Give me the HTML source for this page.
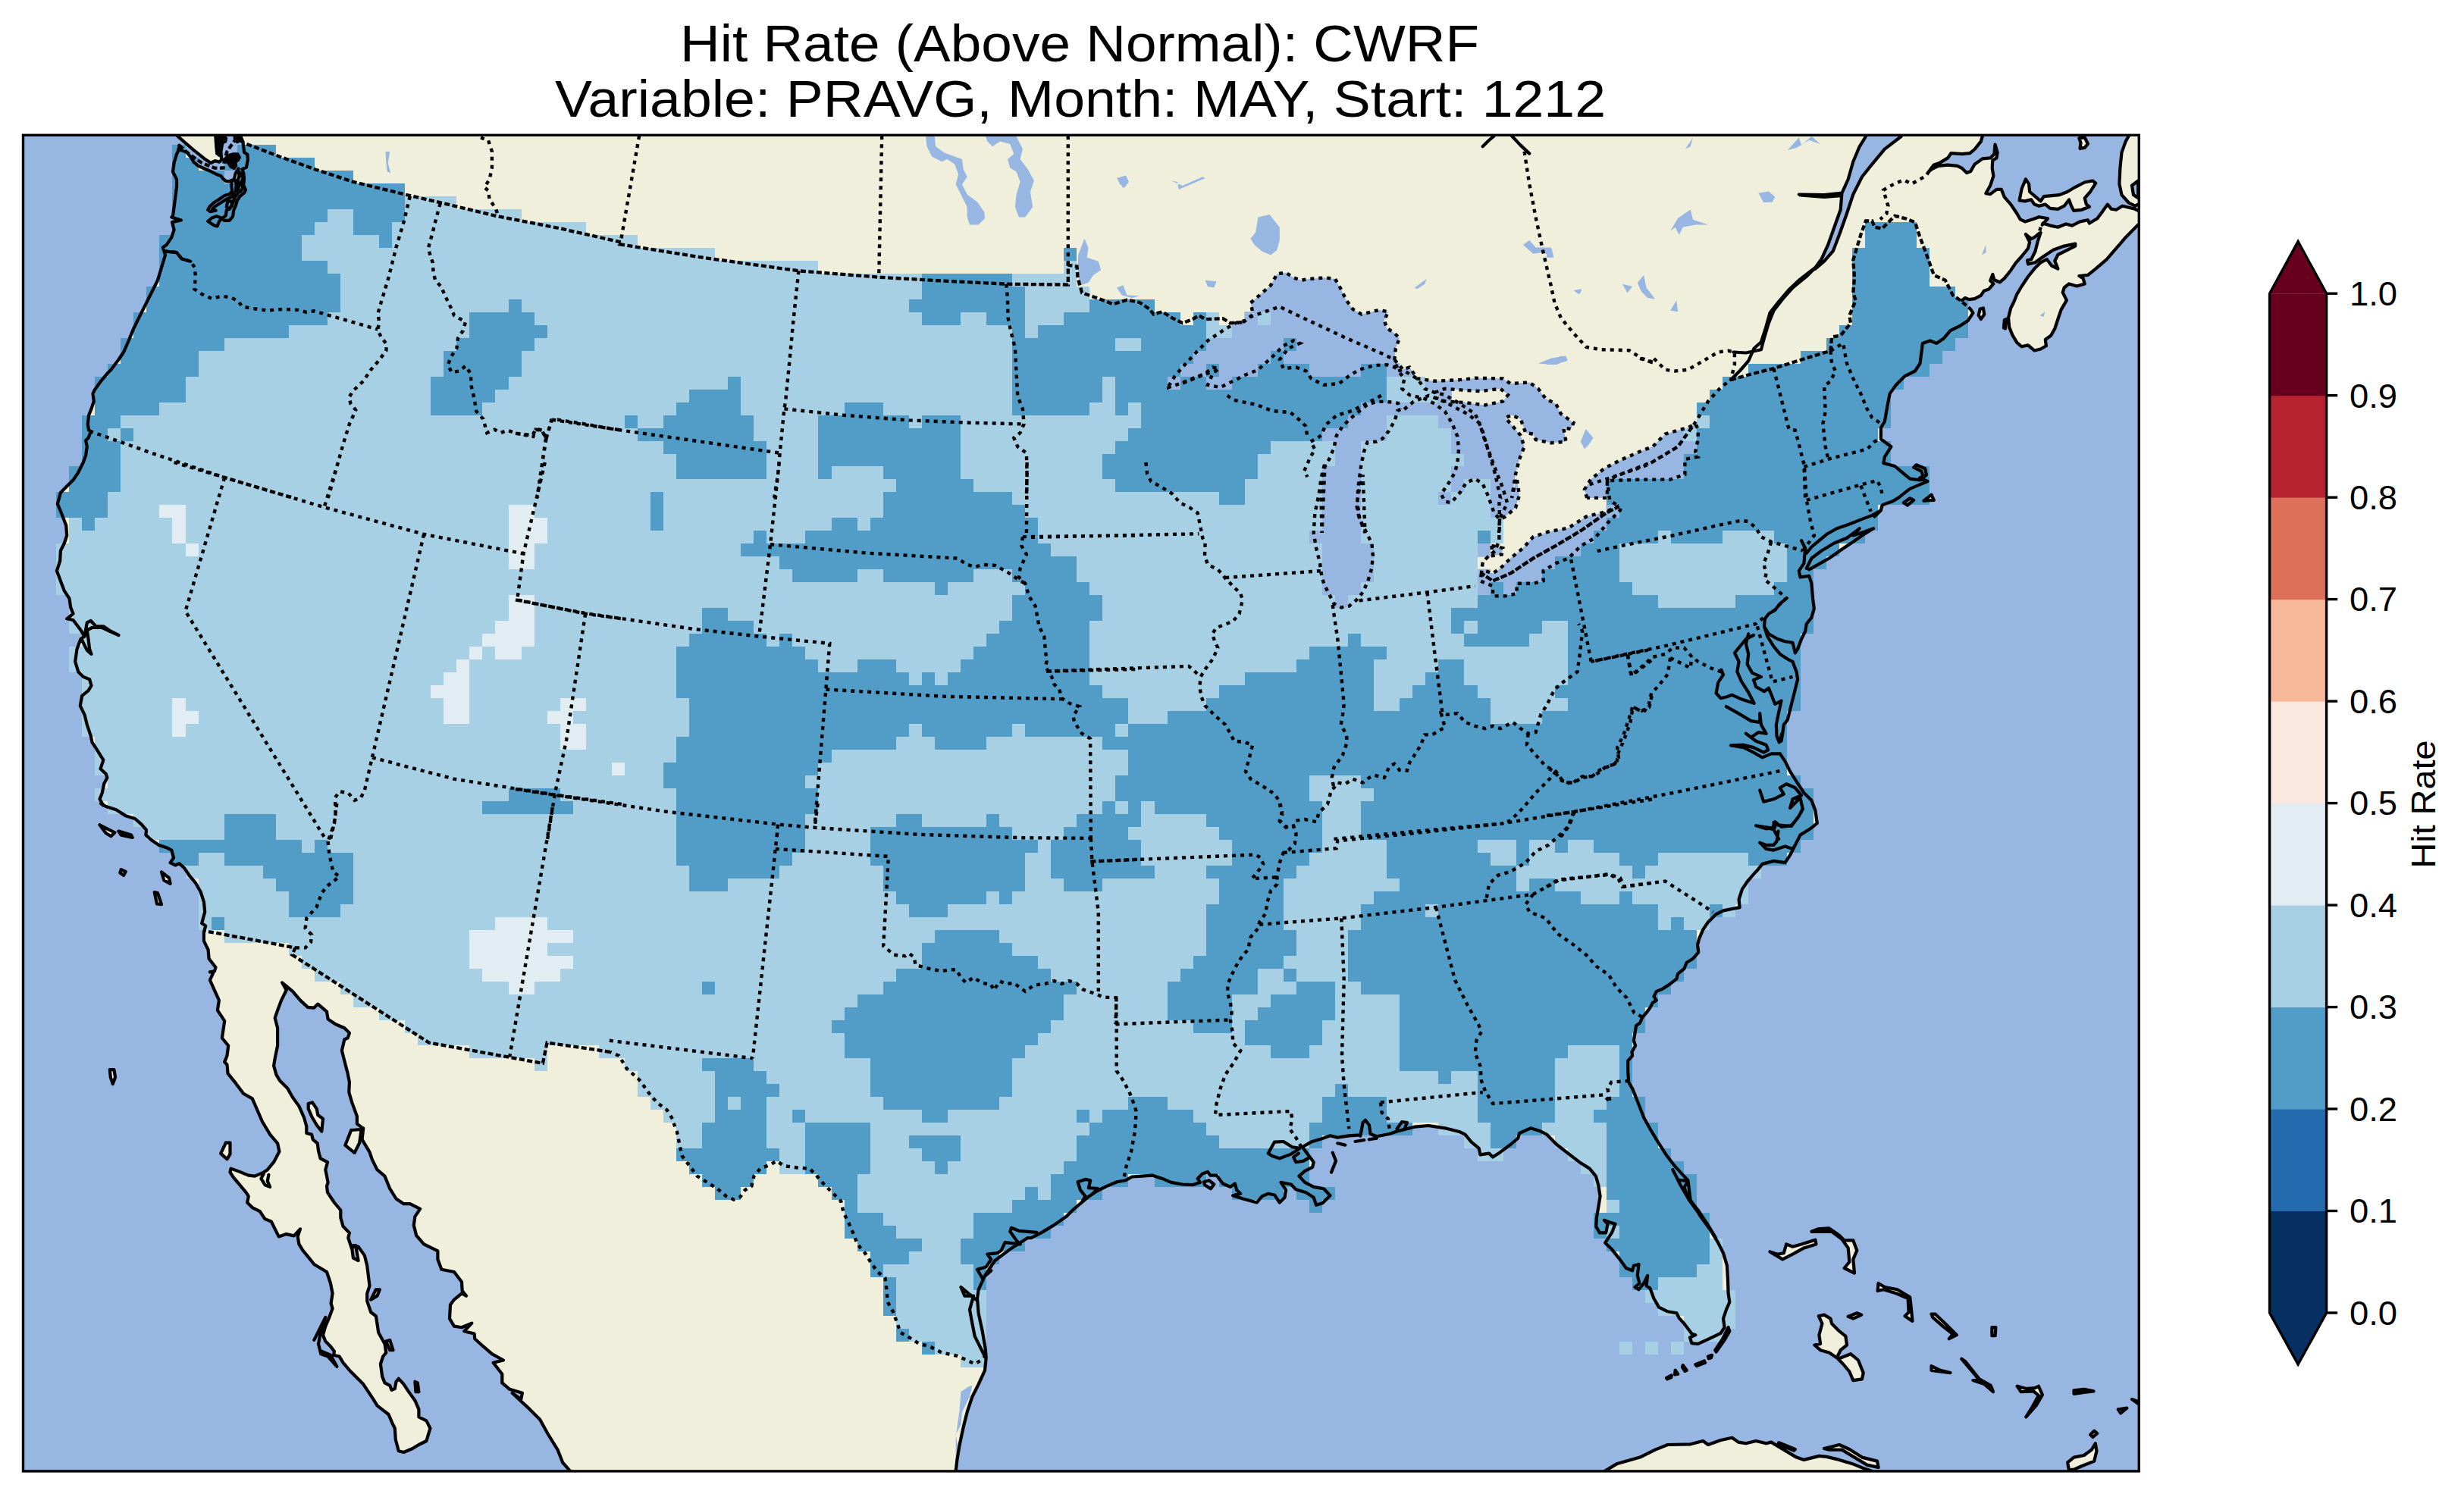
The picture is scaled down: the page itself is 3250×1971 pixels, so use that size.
<!DOCTYPE html><html><head><meta charset="utf-8"><style>html,body{margin:0;padding:0;background:#fff}body{width:3250px;height:1971px;position:relative;overflow:hidden;font-family:"Liberation Sans",sans-serif}text{font-family:"Liberation Sans",sans-serif;fill:#000}</style></head><body><svg xmlns="http://www.w3.org/2000/svg" width="3250" height="1971" viewBox="0 0 3250 1971" style="position:absolute;left:0;top:0">
<defs><clipPath id="fr"><rect x="30.5" y="178.3" width="2790.8" height="1762.6000000000001"/></clipPath></defs>
<g clip-path="url(#fr)">
<rect x="25.5" y="173.3" width="2800.8" height="1772.6000000000001" fill="#97b6e1"/>
<path fill="#efefdb" d="M319.5,186.6 317.8,181.6 316.2,166.7 2400,100 2614.9,165.9 2614.9,179.3 2612.8,186.6 2604.5,197 2598.3,202.2 2587.9,203.2 2573.4,202.2 2569.2,208.4 2558.8,214.6 2550.5,217.7 2544.3,226 2548.5,222.9 2556.8,218.8 2569.2,217.7 2581.7,218.8 2587.9,221.9 2594.1,228.1 2599.3,226 2604.5,216.7 2614.9,209.4 2625.2,208.4 2630.4,203.2 2631.5,190.7 2634.6,201.1 2633.5,208.4 2628.3,211.5 2627.7,221.9 2629.4,232.2 2625.2,244.7 2619.4,255.1 2625.2,256.1 2633.5,249.9 2639.8,249.9 2643.9,260.2 2652.2,269.6 2660.5,282 2664.6,289.3 2670.9,292.4 2681.2,289.3 2689.5,286.2 2701,288.3 2693.7,296.6 2694.7,294.5 2704.1,297.6 2714.4,299.7 2724.8,295.5 2733.1,297.6 2743.5,292.4 2753.9,290.3 2755.9,294.5 2766.3,288.3 2772.5,280 2779.8,269.6 2785,275.8 2791.2,276.8 2799.5,271.7 2807.8,273.7 2816.1,275.8 2820.2,277.9 2836.8,277.9 2836.8,296.6 2820.2,296.6 2814,302.8 2803.7,313.2 2791.2,327.7 2778.8,342.2 2764.2,354.6 2753.9,362.9 2742.4,364 2747.6,367.1 2749.7,374.4 2739.3,377.5 2729,374.4 2722.7,379.5 2720.7,385.8 2725.9,396.1 2718.6,408.6 2714.4,421 2710.3,433.5 2705.1,442.8 2697.8,448 2698.9,456.3 2691.6,460.5 2683.3,462.5 2675,455.3 2666.7,457.3 2660.5,452.2 2654.3,441.8 2650.1,431.4 2649.1,419 2652.2,406.5 2656.3,398.2 2660.5,387.8 2666.7,377.5 2675,365 2683.3,354.6 2691.6,346.3 2699.9,342.2 2706.1,350.5 2714.4,354.6 2710.3,344.3 2714.4,336 2724.8,330.8 2737.3,324.6 2737.3,321.5 2722.7,324.6 2708.2,329.8 2695.8,338 2684.4,346.3 2675,348.4 2674,343.2 2679.2,342.2 2684.4,331.8 2687.5,319.4 2691.6,306.9 2689.5,308 2683.3,313.2 2679.2,315.2 2671.9,309 2677.1,319.4 2675,327.7 2666.7,338 2658.4,347.4 2652.2,356.7 2643.9,367.1 2637.7,372.3 2630.4,369.2 2628.3,361.9 2625.2,370.2 2629.4,374.4 2623.2,381.6 2616.9,383.7 2612.8,389.9 2604.5,394.1 2597.2,395.1 2592,393 2587.9,396.1 2599.1,407.9 2585.8,396.3 2575.8,389.6 2565.8,369.7 2550.8,363 2542.5,339.7 2532.5,313.1 2525.9,293.1 2512.6,288.1 2499.3,284.8 2482.6,301.4 2472.6,299.8 2469.3,291.5 2461,291.5 2454.3,309.8 2444.3,343 2446,366.3 2444.3,386.3 2447.7,396.3 2439.4,416.2 2441,426.2 2427.7,442.9 2416.1,444.5 2414.4,462.8 2376.1,474.5 2339.5,486.1 2306.2,494.5 2282.9,501.1 2269.6,511.1 2253,529.4 2243,546 2234.7,559.4 2213.1,589.3 2179.8,609.3 2173.1,613.3 2139.8,625 2119.9,633.3 2123.2,659.9 2135.4,668.2 2118.8,676.6 2085.5,699.9 2052.2,719.8 2022.3,736.5 1992.3,756.4 1969,766.4 1954,756.4 1955.7,741.5 1962.4,734.8 1972.3,726.5 1977.3,713.2 1978,684.9 1977.3,658.3 1979,656.9 1972.3,625.9 1962.4,592.6 1955.7,569.3 1945.7,546 1925.7,532.7 1905.8,521.1 1892.5,517.8 1879.2,512.8 1869.2,499.4 1852.5,489.5 1839.2,474.5 1825.9,467.8 1776,446.2 1726.1,422.9 1687.8,404.6 1649.5,417.9 1639.5,425.2 1622.9,426.2 1612.9,420.2 1589.6,421.2 1581.3,416.2 1573,421.2 1559.7,426.2 1546.4,419.6 1533.1,411.3 1521.4,414.6 1516.4,407.9 1503.1,398.9 1486.5,395.6 1468.2,401.3 1459.8,397.9 1446.5,393 1427.1,386.3 1421.5,366.3 1420.5,351.4 1408.8,349.7 1408.8,375.6 1327.3,374.7 1245.7,370.7 1159.2,365.7 1053.4,357.3 926.3,339.7 818.1,322.4 820,319.7 738.8,301.4 653.9,284.8 584.7,268.2 534.1,256.5 465.9,239.9 415,223.2 364.1,204.9 321.1,188.3 319.5,186.6ZM236.3,191.6 249.6,203.3 266.2,214.9 282.9,221.6 294.5,221.6 296.2,209.9 299.5,199.9 306.2,190 311.2,183.3 319.5,186.6 321.1,188.3 364.1,204.9 415,223.2 465.9,239.9 534.1,256.5 584.7,268.2 653.9,284.8 738.8,301.4 820,319.7 818.1,322.4 926.3,339.7 1053.4,357.3 1159.2,365.7 1245.7,370.7 1327.3,374.7 1408.8,375.6 1408.8,349.7 1420.5,351.4 1421.5,366.3 1427.1,386.3 1446.5,393 1459.8,397.9 1468.2,401.3 1486.5,395.6 1503.1,398.9 1516.4,407.9 1521.4,414.6 1533.1,411.3 1546.4,419.6 1559.7,426.2 1573,421.2 1581.3,416.2 1589.6,421.2 1612.9,420.2 1622.9,426.2 1639.5,425.2 1649.5,417.9 1687.8,404.6 1726.1,422.9 1776,446.2 1825.9,467.8 1839.2,474.5 1852.5,489.5 1869.2,499.4 1879.2,512.8 1892.5,517.8 1905.8,521.1 1925.7,532.7 1945.7,546 1955.7,569.3 1962.4,592.6 1972.3,625.9 1979,656.9 1977.3,658.3 1978,684.9 1977.3,713.2 1972.3,726.5 1962.4,734.8 1955.7,741.5 1954,756.4 1969,766.4 1992.3,756.4 2022.3,736.5 2052.2,719.8 2085.5,699.9 2118.8,676.6 2135.4,668.2 2123.2,659.9 2119.9,633.3 2139.8,625 2173.1,613.3 2179.8,609.3 2213.1,589.3 2234.7,559.4 2243,546 2253,529.4 2269.6,511.1 2282.9,501.1 2306.2,494.5 2339.5,486.1 2376.1,474.5 2414.4,462.8 2416.1,444.5 2427.7,442.9 2441,426.2 2439.4,416.2 2447.7,396.3 2444.3,386.3 2446,366.3 2444.3,343 2454.3,309.8 2461,291.5 2469.3,291.5 2472.6,299.8 2482.6,301.4 2499.3,284.8 2512.6,288.1 2525.9,293.1 2532.5,313.1 2542.5,339.7 2550.8,363 2565.8,369.7 2575.8,389.6 2585.8,396.3 2599.1,407.9 2602.4,412.9 2595.8,422.9 2585.8,429.6 2572.5,436.2 2564.1,446.2 2554.2,452.9 2545.8,449.5 2535.9,452.9 2534.2,466.2 2532.5,479.5 2525.9,489.5 2512.6,496.1 2500.9,507.8 2492.6,519.4 2489.3,536.1 2485.9,556 2480.9,564.3 2480.9,579.3 2487.6,584.3 2494.3,589.3 2485.9,602.6 2484.3,610.9 2484.3,611 2499.3,615 2509.2,623.3 2519.2,631.6 2532.5,633.3 2540.9,626.6 2539.2,618.3 2527.5,613.3 2524.2,616.7 2534.2,621.6 2536.5,628.3 2531.9,630.6 2542.5,635 2529.2,640.6 2519.2,644.9 2512.6,649.9 2504.2,656.6 2495.9,661.6 2485.9,664.9 2482.6,666.6 2480.9,673.2 2472.6,681.6 2471,697.2 2456,706.5 2444.3,714.8 2429.4,724.8 2412.7,736.5 2397.8,744.8 2386.1,751.4 2374.5,761.4 2386.1,759.8 2389.4,769.7 2391.1,789.7 2392.8,803 2389.4,814.7 2382.8,823 2381.1,833 2376.1,843 2371.1,856.3 2367.8,861.3 2364.5,872.9 2369.5,886.2 2371.1,896.2 2367.8,909.5 2362.8,929.5 2357.8,949.4 2352.8,956.1 2351.2,967.8 2349.5,977.7 2347.8,994.4 2354.5,1004.4 2361.1,1017.7 2369.5,1031 2379.4,1046 2389.4,1055.9 2394.4,1069.3 2396.8,1085.9 2396.1,1086.6 2387.8,1093.3 2374.5,1101.6 2367.8,1114.9 2361.1,1128.2 2354.5,1138.2 2339.5,1135.9 2324.5,1139.9 2317.9,1148.2 2314.6,1151.5 2304.6,1163.2 2297.9,1173.1 2293.6,1186.5 2294.6,1197.1 2273,1201.4 2263,1206.4 2253,1216.4 2246.3,1226.4 2241.3,1238 2239,1246.4 2240.3,1256.3 2233,1264.7 2224.7,1269.7 2221.4,1278 2213.1,1284.6 2211.4,1291.3 2203.1,1297.9 2193.1,1304.6 2184.8,1307.9 2181.4,1314.6 2184.8,1319.6 2179.8,1322.9 2176.4,1329.6 2171.5,1336.2 2165.8,1342.9 2163.1,1349.5 2158.1,1352.9 2156.5,1362.8 2154.8,1372.8 2157.1,1379.5 2152.5,1387.8 2153.1,1392.8 2147.2,1399.4 2147.2,1412.8 2148.2,1427.7 2153.1,1436.1 2159.8,1452.7 2168.1,1474.3 2176.4,1489.3 2186.4,1505.9 2198.1,1524.2 2209.7,1539.2 2221.4,1551.9 2226.4,1556.9 2229.7,1583.2 2243,1604.8 2256.3,1623.1 2266.3,1639.7 2273,1653.1 2277.9,1669.7 2278.9,1686.3 2279.6,1706.3 2281.3,1717.9 2276.9,1727.9 2273,1739.6 2274.6,1751.2 2269.6,1758.9 2261.3,1762.9 2253,1766.9 2239.7,1772.9 2231.4,1772.2 2229,1764.5 2236.3,1761.2 2231.4,1759.5 2221.4,1746.2 2214.7,1738.9 2211.4,1732.3 2199.7,1730.3 2188.1,1724.6 2181.4,1713 2176.4,1699.6 2171.5,1696.3 2173.1,1683 2168.1,1693 2161.5,1701.3 2156.5,1698 2162.5,1693 2159.8,1683 2161.5,1668 2154.8,1669.7 2153.1,1676.3 2144.8,1673 2136.5,1661.4 2125.9,1648.1 2117.2,1639.7 2125.9,1626.4 2130.5,1614.8 2124.9,1613.1 2115.9,1609.8 2120.5,1614.8 2118.2,1626.4 2109.9,1626.4 2105.2,1618.1 2105.9,1606.5 2108.2,1593.1 2110.6,1578.2 2108.2,1563.2 2104.9,1551.6 2096.6,1541.6 2083.3,1533.2 2068.3,1521.6 2053.3,1510 2040,1496.6 2032.2,1492.6 2018.9,1488.3 2004,1495 2002.3,1501.6 1992.3,1510 1979,1519.9 1969,1526.6 1964,1521.6 1952.4,1523.3 1950.7,1514.9 1940.7,1506.6 1932.4,1496.6 1925.7,1493.3 1905.8,1488.3 1884.1,1485 1865.8,1486.7 1845.9,1491.6 1832.6,1496 1807.6,1496.6 1794.3,1497.3 1779.3,1498.3 1764.3,1500.6 1754.4,1498.3 1742.7,1502.6 1729.4,1506.6 1717.8,1513.3 1727.7,1526.6 1732.7,1533.2 1731.1,1539.9 1721.1,1544.9 1713.4,1551.6 1721.1,1559.9 1732.7,1565.9 1746,1568.2 1754.4,1577.2 1744.4,1587.2 1736.1,1589.8 1732.7,1579.8 1722.7,1573.2 1709.4,1569.2 1702.8,1562.5 1689.5,1559.9 1696.1,1569.9 1694.5,1579.8 1687.8,1586.5 1681.1,1576.5 1672.8,1574.8 1664.5,1578.2 1657.8,1586.5 1639.5,1581.5 1626.2,1577.2 1636.2,1574.8 1631.2,1569.9 1628.9,1561.5 1622.9,1565.9 1612.9,1561.5 1604.6,1550.6 1596.3,1550.6 1593,1545.9 1586.3,1548.2 1579.6,1554.9 1583,1559.9 1573,1563.2 1559.7,1562.5 1544.7,1559.9 1533.1,1554.9 1519.7,1550.6 1506.4,1551.6 1493.1,1552.5 1484.8,1557.2 1473.1,1559.2 1459.8,1564.9 1446.5,1571.5 1436.5,1578.2 1426.6,1586.5 1416.6,1594.8 1406.6,1604.8 1390,1616.4 1373.3,1626.4 1360,1633.1 1355.6,1633.1 1332.3,1648.1 1312.3,1663 1299,1683 1290.7,1701.3 1289,1713 1290.7,1732.9 1295.7,1756.2 1299.7,1779.5 1300.7,1791.2 1299,1789.5 1294,1794.5 1285.7,1799.5 1275.7,1794.5 1262.4,1788.8 1242.4,1784.5 1225.8,1776.2 1212.5,1772.9 1199.2,1764.5 1187.5,1757.9 1182.5,1742.9 1177.5,1729.6 1170.9,1717.9 1169.2,1699.6 1167.5,1686.3 1157.6,1678 1149.2,1666.4 1140.9,1653.1 1130.9,1641.4 1125.9,1628.1 1119.3,1613.1 1112.6,1599.8 1109.3,1584.8 1097.7,1573.2 1086,1561.5 1076,1549.9 1067.7,1541.6 1052.7,1540.6 1034.4,1538.2 1024.4,1531.6 1016.1,1536.6 1002.8,1541.6 994.5,1551.6 991.2,1564.9 982.8,1569.9 976.2,1579.2 967.9,1582.5 957.9,1578.2 946.2,1568.2 932.9,1559.9 919.6,1551.6 909.6,1538.2 899.6,1524.9 896.3,1510 893,1493.3 888,1480 888,1477.7 879.7,1464.3 866.4,1454.4 856.4,1442.7 843.1,1424.4 826.4,1409.4 816.4,1392.8 804.8,1387.8 721.6,1375.5 715.9,1402.8 715.5,1402.8 565.7,1375.5 385.4,1259.7 389.4,1250.4 332.8,1239.7 269.6,1228.1 268.9,1229.7 271.2,1221.4 266.2,1218.1 267.9,1211.4 270.2,1203.1 268.9,1189.8 264.6,1176.5 257.9,1164.8 249.6,1154.8 242.9,1144.9 236.3,1139.2 231.3,1141.5 224.6,1138.2 229,1131.6 226.3,1121.6 219.6,1118.2 209.7,1114.9 199.7,1108.3 192.4,1101.6 193,1094.9 186.4,1087.3 178,1080 166.4,1076.6 153.1,1068.3 139.8,1064 133.1,1060 136.4,1062.6 131.5,1054.3 134.8,1046 137.1,1034.3 141.4,1026 139.8,1021 132.5,1014.3 136.4,1002.7 133.1,997.7 128.1,989.4 121.5,979.4 119.8,971.1 114.8,956.1 111.5,942.8 105.8,931.1 108.2,917.8 116.5,911.2 120.5,904.5 118.1,896.2 109.8,892.9 103.2,886.2 99.2,872.9 101.5,856.3 106.5,843 111.5,839.6 106.5,831.3 96.5,818 88.2,816.3 96.5,809.7 93.2,801.4 91.5,789.7 84.9,779.7 79.9,766.4 74.9,753.1 79.2,739.8 79.9,726.5 84.9,716.5 88.2,706.5 87.2,693.2 81.5,678.2 75.9,664.9 79.9,649.9 88.2,641.6 96.5,633.3 103.2,623.3 109.8,610 113.1,600.9 114.8,589.3 113.1,581 116.5,577.7 119.8,569.3 117.1,567.7 115.8,559.4 117.1,547.7 120.5,539.4 123.8,529.4 122.5,519.4 124.8,514.4 133.1,502.8 141.4,492.8 146.4,487.8 156.4,474.5 163.1,464.5 169.7,449.5 175.7,434.6 183,419.6 191.4,402.9 199.7,386.3 208,369.7 213,353 218,336.4 214.7,326.4 219.6,323.1 226.3,313.1 229.6,303.1 227,293.1 238.9,290.5 226.3,286.5 228,284.8 229.6,273.1 231.3,259.8 233,246.5 233,236.5 228,226.6 229.6,214.9 233,203.3 236.3,196.6ZM268.9,1229.7 268.9,1241.4 274.6,1253 275.6,1264.7 284.5,1276.3 282.9,1281.3 276.9,1282.3 281.2,1283.6 276.9,1293 282.9,1306.3 288.9,1319.6 286.9,1332.9 296.2,1346.9 292.9,1369.5 301.2,1379.5 299.5,1392.8 296.2,1401.1 299.5,1404.4 300.5,1416.1 311.2,1429.4 321.1,1442.7 332.8,1449.4 346.1,1480 356.1,1496.6 366.1,1508.3 368.4,1519.3 361.1,1533.2 352.8,1543.2 347.8,1546.6 336.1,1551.6 327.8,1550.6 316.2,1545.9 304.5,1541.6 303.5,1546.6 307.8,1553.2 316.2,1563.2 324.5,1573.2 327.8,1578.2 326.1,1586.5 332.8,1593.1 342.8,1598.1 349.4,1608.1 357.8,1611.5 362.7,1621.4 367.7,1631.4 377.7,1628.1 387.7,1630.4 396,1621.4 392.7,1631.4 394.4,1641.4 399.4,1649.7 407.7,1659.7 414.3,1668 422.6,1673 431,1678 436,1693 438.6,1706.3 436.6,1719.6 438.6,1726.3 434.3,1737.9 429.3,1749.6 426,1761.2 429.3,1769.5 436,1776.2 440.9,1782.8 440,1787.8 447.6,1789.5 452.6,1797.8 462.6,1809.5 479.2,1826.1 492.5,1846.1 497.5,1854.4 512.5,1866 517.5,1877.7 520.8,1884.3 521.8,1899.3 525.8,1914.3 532.5,1916 544.1,1911 552.4,1906 562.4,1901 567.4,1884.3 562.4,1874.4 552.4,1869.4 552.4,1859.4 547.4,1847.7 539.1,1836.1 532.5,1826.1 525.8,1818.8 522.5,1822.8 520.8,1832.1 516.5,1833.8 514.2,1827.8 507.5,1824.4 504.2,1816.1 501.9,1799.5 505.2,1789.5 509.2,1784.5 507.5,1772.9 499.2,1757.9 495.9,1736.2 489.2,1731.3 484.2,1716.3 484.2,1706.3 487.5,1696.3 484.2,1669.7 480.9,1656.4 472.6,1644.7 465.9,1643.1 464.2,1648.1 459.3,1633.1 460.9,1626.4 452.6,1618.1 449.3,1606.5 449.3,1596.5 440.9,1586.5 432,1573.2 431,1564.9 432.6,1559.9 429.3,1543.2 432,1533.2 422.6,1528.3 420,1518.3 418.7,1508.3 412.7,1503.3 411,1496.6 404.3,1495 404.3,1494.3 404.3,1486 401,1474.3 394.4,1459.4 386,1447.7 379.4,1436.1 369.4,1426.1 364.4,1417.8 361.1,1406.1 362.7,1396.1 366.1,1379.5 366.1,1356.2 362.7,1342.9 366.1,1332.9 371.1,1319.6 377.7,1306.3 372.1,1296.3 386,1307.9 396,1319.6 406,1328.9 414.3,1329.6 419.3,1324.6 431,1334.6 432.6,1344.5 442.6,1351.2 454.3,1356.2 460.9,1362.8 458.6,1369.5 454.3,1371.2 450.9,1386.1 454.3,1399.4 458.6,1416.1 460.9,1427.7 460.3,1441 464.2,1454.4 470.9,1472.7 470.9,1482.6 477.6,1487.6 479.2,1488.3 477.6,1503.3 487.5,1519.9 490.9,1529.9 497.5,1543.2 507.5,1551.6 514.2,1568.2 522.5,1581.5 532.5,1588.2 540.8,1588.2 554.1,1594.8 547.4,1604.8 545.8,1616.4 549.1,1629.8 559.1,1641.4 577.4,1650.4 577.4,1661.4 582.4,1674.7 599,1678 609,1691.3 609.7,1703 615,1709.6 609,1706.3 599,1714.6 594,1721.3 593,1739.6 599,1749.6 609,1751.2 622.3,1745.6 612.3,1756.2 625.6,1759.5 626.3,1766.2 637.3,1776.2 648.9,1786.2 663.9,1794.5 650.6,1797.8 662.3,1812.8 662.3,1824.4 672.2,1832.8 688.9,1837.8 687.2,1846.1 675.6,1837.8 698.9,1859.4 712.2,1872.7 722.2,1891 735.5,1912.6 742.1,1929.3 752.1,1940.9 762.1,1959.2 1260.7,1959.2 1260.7,1940.9 1262.4,1925.9 1265.7,1906 1270.7,1882.7 1275.7,1862.7 1282.4,1842.7 1290.7,1826.1 1299,1807.8 1300.7,1791.2 1299,1789.5 1294,1794.5 1285.7,1799.5 1275.7,1794.5 1262.4,1788.8 1242.4,1784.5 1225.8,1776.2 1212.5,1772.9 1199.2,1764.5 1187.5,1757.9 1182.5,1742.9 1177.5,1729.6 1170.9,1717.9 1169.2,1699.6 1167.5,1686.3 1157.6,1678 1149.2,1666.4 1140.9,1653.1 1130.9,1641.4 1125.9,1628.1 1119.3,1613.1 1112.6,1599.8 1109.3,1584.8 1097.7,1573.2 1086,1561.5 1076,1549.9 1067.7,1541.6 1052.7,1540.6 1034.4,1538.2 1024.4,1531.6 1016.1,1536.6 1002.8,1541.6 994.5,1551.6 991.2,1564.9 982.8,1569.9 976.2,1579.2 967.9,1582.5 957.9,1578.2 946.2,1568.2 932.9,1559.9 919.6,1551.6 909.6,1538.2 899.6,1524.9 896.3,1510 893,1493.3 888,1480 888,1477.7 879.7,1464.3 866.4,1454.4 856.4,1442.7 843.1,1424.4 826.4,1409.4 816.4,1392.8 804.8,1387.8 721.6,1375.5 715.9,1402.8 715.5,1402.8 565.7,1375.5 385.4,1259.7 389.4,1250.4 332.8,1239.7 269.6,1228.1ZM234,175.6 234,179.4 255.6,198.1 269.7,209.4 278.1,215 283.7,212.2 289.3,213.6 292.2,211.2 291.2,198.1 287.5,179.4 287.5,175.6ZM2663.6,264.4 2666.7,248.8 2671.9,236.4 2676.1,242.6 2677.1,253 2684.4,259.2 2691.6,265.4 2695.8,259.2 2706.1,258.2 2716.5,257.1 2726.9,253 2737.3,246.8 2749.7,240.5 2760.1,238.5 2764.2,241.6 2757,253 2749.7,261.3 2751.8,269.6 2755.9,272.7 2745.6,276.8 2735.2,277.9 2732.1,271.7 2729,263.4 2722.7,271.7 2714.4,275.8 2704.1,274.8 2697.8,269.6 2689.5,271.7 2683.3,269.6 2679.2,263.4 2670.9,265.4ZM2807.8,165.9 2807.8,179.3 2803.7,186.6 2798.5,201.1 2796.4,221.9 2795.4,242.6 2798.5,257.1 2807.8,267.5 2816.1,271.7 2820.2,269.6 2836.8,269.6 2836.8,165.9ZM2116.5,1952.6 2116.5,1940.9 2133.2,1930.9 2163.1,1922.6 2183.1,1912.6 2199.7,1906 2229.7,1905.3 2246.3,1901 2253,1906 2269.6,1900 2284.6,1896.7 2292.9,1902.6 2302.9,1904.3 2316.2,1901 2329.5,1904.3 2336.2,1902.6 2352.8,1912.6 2369.5,1922.6 2379.4,1925.9 2399.4,1920.9 2409.4,1921.9 2426,1925.9 2442.7,1930.9 2459.3,1937.6 2469.3,1940.9 2469.3,1952.6ZM2742.4,182.4 2749.7,181.4 2753.9,189.7 2749.7,194.9 2743.5,195.9 2744.5,188.7ZM2611.7,407.6 2615.9,406.5 2617.3,414.8 2612.8,421 2609.7,415.9ZM2643.9,422.1 2646,421 2644.9,433.5 2642.9,432.4ZM2812,244.7 2820.2,238.5 2820.2,261.3 2814,257.1ZM2510.9,663.2 2519.2,657.3 2524.2,659.9 2515.9,666.6ZM2537.5,660.6 2547.5,652.6 2550.8,659.9ZM131.5,1088.3 141.4,1093.3 151.4,1098.3 146.4,1103.3 139.8,1099.3ZM156.4,1096.6 173.1,1101.6 174.7,1104.9 159.7,1101.6ZM159.7,1147.2 165.7,1149.9 163.1,1154.8 158.4,1151.5ZM213,1150.5 223,1158.2 224.6,1165.8 216.3,1161.5ZM203.7,1177.1 208,1178.1 213,1193.1 207,1192.5ZM144.8,1411.1 150.4,1411.1 152.1,1421.1 148.8,1430.1 145.8,1421.1ZM297.8,1507.6 303.5,1507.6 303.5,1522.6 299.5,1529.2 291.2,1521.9ZM406.7,1456 412,1454.4 417.7,1462.7 419.3,1471 426,1476 424.3,1492.6 417.7,1484.3 411,1472.7 406.7,1462.7ZM463.2,1491 476.6,1490 474.2,1507.6 467.6,1520.9 455.3,1510.9ZM464.2,1646.4 469.2,1643.1 472.6,1663 465.9,1659.7ZM489.2,1714.6 495.9,1701.3 500.9,1701.3 497.5,1709.6ZM509.2,1769.5 514.2,1767.9 518.5,1781.2 514.2,1781.2ZM547.4,1822.8 550.8,1824.4 552.4,1836.1 548.4,1836.1ZM2334.5,1651.4 2351.2,1661.4 2364.5,1654.7 2379.4,1646.4 2395.4,1641.4 2394.4,1635.7 2376.1,1641.4 2364.5,1644.7 2356.2,1641.4 2352.8,1653.1 2344.5,1654.7ZM2389.4,1624.8 2397.8,1621.4 2412.7,1620.4 2426,1629.8 2432.7,1636.4 2444.3,1636.4 2449.3,1649.7 2444.3,1661.4 2446,1679.7 2432.7,1673 2439.4,1664.7 2437.7,1646.4 2429.4,1634.7 2416.1,1624.8 2401.1,1624.8ZM2398.8,1736.2 2406.1,1734.6 2414.4,1739.6 2416.1,1746.2 2426,1756.2 2434.4,1762.9 2436,1774.5 2427.7,1781.2 2422.7,1791.2 2412.7,1784.5 2401.1,1781.2 2393.4,1774.5 2401.1,1772.9 2399.4,1761.2 2403.4,1746.2ZM2424.4,1792.8 2441,1786.2 2451,1794.5 2457.7,1811.1 2456,1819.4 2444.3,1821.1 2439.4,1809.5 2431,1799.5ZM2437.7,1736.9 2449.3,1732.3 2455.3,1734.6 2444.3,1739.6ZM2477.6,1693 2485.9,1698 2502.6,1701.3 2519.2,1711.3 2520.9,1726.3 2522.5,1742.9 2512.6,1736.2 2517.6,1731.3 2516.6,1713 2500.9,1706.3 2484.3,1701.3 2476.6,1703ZM2547.5,1733.6 2552.5,1733.6 2565.8,1746.2 2580.8,1761.2 2570.8,1766.2 2575.8,1760.2 2562.5,1749.6 2549.2,1737.9ZM2587.4,1792.8 2605.7,1814.5 2610.7,1821.1 2602.4,1821.1 2617.4,1826.1 2629,1836.1 2625.7,1827.8 2610.7,1819.4 2592.4,1796.2ZM2660.7,1828.8 2672.3,1832.1 2684,1831.1 2688.9,1828.8 2693.9,1840.1 2685.6,1854.4 2672.3,1869.4 2680.6,1856.1 2688.9,1841.1 2682.3,1835.4 2665.6,1836.1ZM2547.5,1802.1 2559.2,1807.8 2572.5,1811.1 2559.2,1809.5 2547.5,1807.8ZM2627.4,1751.2 2632.4,1751.2 2631.7,1762.2 2627.4,1762.2ZM2735.5,1834.4 2748.8,1832.8 2761.5,1835.4 2748.8,1836.8 2735.5,1838.8ZM2793.8,1859.4 2805.4,1857.7 2797.1,1864.4ZM2812.1,1846.1 2821.4,1849.4 2820.4,1852.1ZM2757.2,1892.7 2762.2,1887.7 2766.2,1891 2760.5,1896ZM2728.9,1939.3 2727.2,1929.3 2735.5,1922.6 2748.8,1920 2758.8,1912.6 2763.8,1904.3 2765.5,1914.3 2762.2,1927.6 2745.5,1934.3 2735.5,1938.6ZM2346.2,1903.3 2367.8,1912 2366.1,1913.6 2345.5,1905.3ZM2406.1,1911 2426,1906 2439.4,1912 2456,1922.6 2476,1927.6 2477.6,1935.9 2462.6,1932.6 2446,1922.6 2429.4,1912.6 2412.7,1912.6ZM2279.6,1751.2 2281.3,1756.2 2274.6,1767.9 2263.6,1783.5 2262.3,1781.2 2272.3,1766.2ZM2253,1789.5 2258,1787.8 2257,1791.2 2253.7,1792.2ZM2236.3,1800.1 2248,1795.5 2249,1797.8 2238,1802.1ZM2219.7,1801.1 2224.7,1807.8 2222.4,1808.8 2219,1803.5ZM2209.7,1807.8 2213.1,1812.8 2209.1,1813.5ZM2198.1,1817.8 2204.7,1814.5 2204.4,1817.1 2199.1,1819.4Z"/>
<path fill="#97b6e1" d="M2462.6,173.3 2462.6,179.3 2452.7,193.3 2444.3,213.2 2437.7,236.5 2429.4,254.8 2427.7,276.5 2419.4,299.8 2411.1,323.1 2402.7,341.4 2394.4,353 2406.1,344.7 2417.7,331.4 2426,309.8 2436,281.5 2444.3,256.5 2456,233.2 2469.3,216.6 2485.9,196.6 2507.6,179.3 2507.6,173.3ZM231.2,188.7 235,197.2 238.7,198.1 246.2,200.9 251.9,207.5 255.6,214 261.2,218.7 269.7,222.5 278.1,226.2 285.6,230 291.2,231.9 294,235.6 297.8,238.9 302.5,239.4 306.2,237.5 310.9,228.1 314.6,222.5 319.3,223.4 325,220.6 326.8,211.2 326.4,203.7 322.1,200.9 321.2,193.4 320.3,186.9 318.4,182.2 315.6,179.4 299.7,179.4 297.8,186.9 294,188.7 292.6,198.1 292.6,211.2 289.3,214 283.7,212.6 278.1,215.5 269.7,209.8 255.6,198.6 234,179.8 231.2,179.8ZM1541.4,509.4 1549.7,496.1 1559.7,484.5 1576.3,466.2 1593,449.5 1612.9,436.2 1629.6,426.2 1642.9,422.9 1652.9,414.6 1649.5,399.6 1661.2,389.6 1676.2,376.3 1684.5,361.3 1696.1,359.7 1706.1,366.3 1716.1,369.7 1726.1,368 1747.7,366.3 1761,368 1767.7,379.6 1776,396.3 1784.3,407.9 1796,414.6 1819.3,408.9 1830.9,411.3 1825.9,422.9 1829.2,432.9 1839.2,439.5 1845.9,446.2 1840.9,459.5 1839.2,476.2 1844.2,487.8 1839.2,484.5 1829.2,481.1 1812.6,482.1 1792.6,487.8 1779.3,496.1 1766,506.1 1746,507.8 1729.4,499.4 1722.7,489.5 1709.4,484.5 1692.8,486.1 1687.8,474.5 1699.4,459.5 1714.4,452.9 1706.1,449.5 1692.8,456.2 1679.5,469.5 1659.5,487.8 1642.9,494.5 1626.2,502.8 1609.6,511.1 1593,507.8 1599.6,492.8 1607.9,486.1 1599.6,484.5 1589.6,492.8 1573,499.4 1556.3,506.1 1541.4,511.1ZM1847.1,540 1843.1,542 1840,554.2 1831.9,568.4 1823.8,578.6 1815.7,582.6 1803.5,583.6 1799.4,594.8 1795.4,613.1 1791.3,643.5 1790.3,663.8 1793.4,684.1 1800.5,703 1797.6,626.6 1792.6,646.6 1789.3,666.6 1792.6,683.2 1800.9,699.9 1809.3,716.5 1810.9,733.1 1809.3,749.8 1804.3,766.4 1797.6,781.4 1789.3,791.4 1779.3,799.7 1769.3,801.4 1759.4,796.4 1752.7,783.1 1746,769.7 1742.7,756.4 1741,743.1 1736.1,723.1 1732.7,703.2 1734.4,676.6 1739.4,653.3 1742.7,630 1747.7,610 1743.6,703 1742.6,663.8 1743.6,633.4 1747.7,615.1 1754.8,602.9 1759.9,588.7 1762.9,574.5 1771,562.3 1781.2,552.2 1793.4,542 1803.5,533.9 1815.7,529.9 1829.9,529.9 1844.1,531.9ZM1844.2,489.5 1859.2,484.5 1869.2,499.4 1892.5,502.8 1925.7,501.1 1945.7,498.8 1982.3,499.4 1992.3,506.1 2017.3,504.4 2028.9,512.8 2038.9,526.1 2052.2,532.7 2058.9,546 2075.5,557.7 2072.2,566 2062.2,564.3 2065.5,582.6 2045.6,584.3 2025.6,580 2022.3,572.7 2012.3,571 2005.6,552.7 1994,547.7 1985.6,551 2005.6,574.3 2010.6,589.3 2004,605.9 1999,625.9 1994,656.9 2000.6,630 2004,653.3 1999,669.9 1985.6,681.6 1978,684.9 1970.7,676.6 1962.4,653.3 1955.7,638.3 1945.7,631.6 1934.1,636.6 1925.7,649.9 1914.1,663.2 1905.8,661.6 1900.8,651.6 1909.1,640 1919.1,623.3 1922.4,610 1924.1,592.6 1922.4,576 1915.8,559.4 1905.8,542.7 1892.5,532.7 1879.2,526.1 1859.2,521.1 1849.2,512.8 1852.5,499.4ZM1967.3,719.8 1982.3,723.1 1980.7,731.5 1969,733.1ZM1954,756.4 1952.4,766.4 1969,773.1 1969,786.4 1985.6,786.4 2000.6,783.1 2000.6,769.7 2022.3,769.7 2035.6,766.4 2035.6,753.1 2052.2,743.1 2068.8,736.5 2085.5,719.8 2103.8,709.8 2120.4,689.9 2137.1,673.2 2137.1,666.6 2118.8,674.9 2092.1,681.6 2068.8,696.5 2042.2,701.5 2022.3,708.2 2008.9,723.1 1992.3,736.5 1979,749.8 1969,756.4 1959,753.1ZM2093.2,656.9 2089.9,645.9 2098.2,632.6 2116.5,617.6 2139.8,605.9 2166.5,594.3 2179.8,589.3 2186.4,582.6 2196.4,572.7 2213.1,567.7 2226.4,564.3 2236.3,559.4 2239.7,566 2239.7,579.3 2236.3,596 2239.7,602.6 2222.4,605.9 2222.4,625.9 2203.1,632.6 2166.5,632.6 2119.9,634.2 2119.9,656.9ZM1220.8,176.6 1232.4,176.6 1234.1,193.3 1245.7,201.6 1259.1,206.6 1269,209.9 1270.7,223.2 1275.7,233.2 1269,243.2 1275.7,256.5 1289,266.5 1298.3,279.8 1299,288.1 1290.7,296.4 1279,296.4 1275.7,286.5 1275.7,273.1 1267.4,256.5 1260.7,243.2 1264.1,229.9 1259.1,216.6 1249.1,209.9 1242.4,213.2 1229.1,206.6 1222.5,193.3ZM1299,176.6 1338.9,176.6 1348.9,196.6 1345.6,209.9 1355.6,223.2 1363.9,238.2 1358.9,253.2 1362.2,273.1 1352.2,286.5 1343.9,286.5 1338.9,273.1 1340.6,256.5 1345.6,239.9 1340.6,226.6 1332.3,221.6 1328.9,209.9 1337.3,203.3 1332.3,190 1319,186.6 1309,193.3 1302.3,186.6ZM1473.7,234.9 1485.4,232.5 1488.7,239.9 1483.7,247.2 1477,243.2ZM1422.1,336.4 1430.4,314.7 1435.4,326.4 1433.8,339.7 1448.8,344.7 1452.1,356.3 1442.1,363 1435.4,373 1425.5,376.3 1421.5,359.7ZM1659.5,286.5 1674.5,283.1 1687.8,299.8 1687.8,316.4 1684.5,329.7 1676.2,336.4 1664.5,331.4 1654.5,323.1 1649.5,314.7 1656.2,306.4ZM1473.1,234.9 1484.8,231.6 1489.1,239.9 1481.5,248.2ZM1554.7,249.9 1589.6,234.9 1586.3,233.2 1559.7,244.9 1544.7,238.2 1553,239.9ZM1473.1,379.6 1481.5,376.3 1486.5,389.6 1503.1,390.3 1493.1,393 1479.8,389.6ZM1589.6,369.7 1604.6,371.3 1601.3,379.6 1593,378ZM2008.9,323.1 2017.3,317.1 2025.6,326.4 2045.6,326.4 2048.9,339.7 2035.6,333.1 2022.3,334.7ZM2028.9,479.5 2045.6,472.8 2065.5,469.5 2067.2,476.2 2048.9,481.1ZM1865.8,379.6 1881.8,368 1879.2,374.7 1869.2,381.3ZM2075.5,383 2085.5,381.3 2082.2,388ZM2319.5,254.8 2332.9,252.5 2341.2,259.8 2337.8,266.5 2326.2,267.2ZM2203.1,304.8 2213.1,288.1 2229.7,276.5 2233,289.8 2253,296.4 2236.3,296.4 2219.7,299.8 2214.7,309.8 2209.7,299.8ZM2078.3,383 2086.6,382.3 2083.3,388ZM2139.8,374.7 2153.1,378 2146.5,386.3ZM2159.8,373 2168.1,363 2171.5,379.6 2183.1,394.6 2173.1,393 2164.8,384.6ZM2203.1,409.6 2211.4,396.3 2213.1,411.3ZM2040,476.2 2060,469.5 2068.3,474.5 2053.3,481.1 2040,481.1ZM2223,196.6 2233,181.6 2229.7,193.3ZM2357.8,198.3 2372.8,181.6 2376.1,191.6 2389.4,180 2401.1,190 2386.1,185 2369.5,194.9ZM2084.9,582.6 2091.6,566 2101.6,577.7 2094.9,587.6 2089.9,592.6ZM2614.1,336.4 2619.1,323.1 2619.7,333.1ZM2690.6,416.2 2697.3,411.3 2695.6,417.9ZM2040,326.4 2046.7,328.1 2049.3,339.7 2040,339.7ZM508.5,199.9 514.2,199.9 511.8,214.9 515.2,228.2 510.8,226.6 509.2,213.2ZM1277.4,1829.4 1282.4,1827.8 1279,1842.7 1269,1862.7 1267.4,1879.4 1260.7,1892.7 1264.1,1912.6 1260.7,1925.9 1260.7,1896 1265.7,1859.4 1267.4,1836.1Z"/>
<path fill="#efefdb" d="M1892.5,517.8 1905.8,512.8 1925.7,514.4 1952.4,516.1 1979,512.8 1989,521.1 1982.3,529.4 1959,534.4 1932.4,531.1 1905.8,529.4 1892.5,524.4Z"/>
<path fill="#97b6e1" d="M1641.3,411.2h18.0v18.0h-18.0ZM1675.4,411.2h18.0v18.0h-18.0ZM1692.4,411.2h18.0v18.0h-18.0ZM1709.4,411.2h18.0v18.0h-18.0ZM1624.2,428.2h18.0v18.0h-18.0ZM1641.3,428.2h18.0v18.0h-18.0ZM1658.3,428.2h18.0v18.0h-18.0ZM1675.4,428.2h18.0v18.0h-18.0ZM1692.4,428.2h18.0v18.0h-18.0ZM1709.4,428.2h18.0v18.0h-18.0ZM1726.5,428.2h18.0v18.0h-18.0ZM1743.5,428.2h18.0v18.0h-18.0ZM1590.2,445.2h18.0v18.0h-18.0ZM1607.2,445.2h18.0v18.0h-18.0ZM1624.2,445.2h18.0v18.0h-18.0ZM1641.3,445.2h18.0v18.0h-18.0ZM1658.3,445.2h18.0v18.0h-18.0ZM1675.4,445.2h18.0v18.0h-18.0ZM1709.4,445.2h18.0v18.0h-18.0ZM1726.5,445.2h18.0v18.0h-18.0ZM1743.5,445.2h18.0v18.0h-18.0ZM1760.6,445.2h18.0v18.0h-18.0ZM1777.6,445.2h18.0v18.0h-18.0ZM1573.1,462.2h18.0v18.0h-18.0ZM1590.2,462.2h18.0v18.0h-18.0ZM1607.2,462.2h18.0v18.0h-18.0ZM1624.2,462.2h18.0v18.0h-18.0ZM1641.3,462.2h18.0v18.0h-18.0ZM1658.3,462.2h18.0v18.0h-18.0ZM1692.4,462.2h18.0v18.0h-18.0ZM1709.4,462.2h18.0v18.0h-18.0ZM1726.5,462.2h18.0v18.0h-18.0ZM1743.5,462.2h18.0v18.0h-18.0ZM1760.6,462.2h18.0v18.0h-18.0ZM1777.6,462.2h18.0v18.0h-18.0ZM1794.6,462.2h18.0v18.0h-18.0ZM1811.7,462.2h18.0v18.0h-18.0ZM1556.1,479.2h18.0v18.0h-18.0ZM1573.1,479.2h18.0v18.0h-18.0ZM1607.2,479.2h18.0v18.0h-18.0ZM1624.2,479.2h18.0v18.0h-18.0ZM1641.3,479.2h18.0v18.0h-18.0ZM1726.5,479.2h18.0v18.0h-18.0ZM1743.5,479.2h18.0v18.0h-18.0ZM1760.6,479.2h18.0v18.0h-18.0ZM1777.6,479.2h18.0v18.0h-18.0ZM1828.7,479.2h18.0v18.0h-18.0ZM1539.0,496.1h18.0v18.0h-18.0ZM1590.2,496.1h18.0v18.0h-18.0ZM1607.2,496.1h18.0v18.0h-18.0ZM1896.9,513.1h18.0v18.0h-18.0ZM1794.6,530.1h18.0v18.0h-18.0ZM1811.7,530.1h18.0v18.0h-18.0ZM1828.7,530.1h18.0v18.0h-18.0ZM1845.8,530.1h18.0v18.0h-18.0ZM1862.8,530.1h18.0v18.0h-18.0ZM1879.8,530.1h18.0v18.0h-18.0ZM1896.9,530.1h18.0v18.0h-18.0ZM1913.9,530.1h18.0v18.0h-18.0ZM1777.6,547.1h18.0v18.0h-18.0ZM1794.6,547.1h18.0v18.0h-18.0ZM1811.7,547.1h18.0v18.0h-18.0ZM1896.9,547.1h18.0v18.0h-18.0ZM1913.9,547.1h18.0v18.0h-18.0ZM1931.0,547.1h18.0v18.0h-18.0ZM1743.5,564.0h18.0v18.0h-18.0ZM1760.6,564.0h18.0v18.0h-18.0ZM1777.6,564.0h18.0v18.0h-18.0ZM1794.6,564.0h18.0v18.0h-18.0ZM1811.7,564.0h18.0v18.0h-18.0ZM1913.9,564.0h18.0v18.0h-18.0ZM1931.0,564.0h18.0v18.0h-18.0ZM1760.6,581.0h18.0v18.0h-18.0ZM1777.6,581.0h18.0v18.0h-18.0ZM1913.9,581.0h18.0v18.0h-18.0ZM1931.0,581.0h18.0v18.0h-18.0ZM1948.0,581.0h18.0v18.0h-18.0ZM2203.6,581.0h18.0v18.0h-18.0ZM2220.6,581.0h18.0v18.0h-18.0ZM1760.6,598.0h18.0v18.0h-18.0ZM1777.6,598.0h18.0v18.0h-18.0ZM1931.0,598.0h18.0v18.0h-18.0ZM1948.0,598.0h18.0v18.0h-18.0ZM2186.6,598.0h18.0v18.0h-18.0ZM2203.6,598.0h18.0v18.0h-18.0ZM1743.5,615.0h18.0v18.0h-18.0ZM1760.6,615.0h18.0v18.0h-18.0ZM1777.6,615.0h18.0v18.0h-18.0ZM1913.9,615.0h18.0v18.0h-18.0ZM1931.0,615.0h18.0v18.0h-18.0ZM1948.0,615.0h18.0v18.0h-18.0ZM2135.4,615.0h18.0v18.0h-18.0ZM2152.5,615.0h18.0v18.0h-18.0ZM2169.5,615.0h18.0v18.0h-18.0ZM2186.6,615.0h18.0v18.0h-18.0ZM2203.6,615.0h18.0v18.0h-18.0ZM1743.5,632.0h18.0v18.0h-18.0ZM1760.6,632.0h18.0v18.0h-18.0ZM1777.6,632.0h18.0v18.0h-18.0ZM1913.9,632.0h18.0v18.0h-18.0ZM1965.0,632.0h18.0v18.0h-18.0ZM1743.5,648.9h18.0v18.0h-18.0ZM1760.6,648.9h18.0v18.0h-18.0ZM1777.6,648.9h18.0v18.0h-18.0ZM1896.9,648.9h18.0v18.0h-18.0ZM1965.0,648.9h18.0v18.0h-18.0ZM1743.5,665.9h18.0v18.0h-18.0ZM1760.6,665.9h18.0v18.0h-18.0ZM1777.6,665.9h18.0v18.0h-18.0ZM1965.0,665.9h18.0v18.0h-18.0ZM2118.4,665.9h18.0v18.0h-18.0ZM1743.5,682.9h18.0v18.0h-18.0ZM1760.6,682.9h18.0v18.0h-18.0ZM1777.6,682.9h18.0v18.0h-18.0ZM2101.4,682.9h18.0v18.0h-18.0ZM1726.5,699.9h18.0v18.0h-18.0ZM1743.5,699.9h18.0v18.0h-18.0ZM1760.6,699.9h18.0v18.0h-18.0ZM1777.6,699.9h18.0v18.0h-18.0ZM2067.3,699.9h18.0v18.0h-18.0ZM2084.3,699.9h18.0v18.0h-18.0ZM1743.5,716.8h18.0v18.0h-18.0ZM1760.6,716.8h18.0v18.0h-18.0ZM1777.6,716.8h18.0v18.0h-18.0ZM1794.6,716.8h18.0v18.0h-18.0ZM1948.0,716.8h18.0v18.0h-18.0ZM2033.2,716.8h18.0v18.0h-18.0ZM2050.2,716.8h18.0v18.0h-18.0ZM2067.3,716.8h18.0v18.0h-18.0ZM1743.5,733.8h18.0v18.0h-18.0ZM1760.6,733.8h18.0v18.0h-18.0ZM1777.6,733.8h18.0v18.0h-18.0ZM1794.6,733.8h18.0v18.0h-18.0ZM2016.2,733.8h18.0v18.0h-18.0ZM2033.2,733.8h18.0v18.0h-18.0ZM1743.5,750.8h18.0v18.0h-18.0ZM1760.6,750.8h18.0v18.0h-18.0ZM1777.6,750.8h18.0v18.0h-18.0ZM1794.6,750.8h18.0v18.0h-18.0ZM1948.0,750.8h18.0v18.0h-18.0ZM1982.1,750.8h18.0v18.0h-18.0ZM1999.1,750.8h18.0v18.0h-18.0ZM2016.2,750.8h18.0v18.0h-18.0ZM1743.5,767.8h18.0v18.0h-18.0ZM1760.6,767.8h18.0v18.0h-18.0ZM1777.6,767.8h18.0v18.0h-18.0ZM1948.0,767.8h18.0v18.0h-18.0ZM1982.1,767.8h18.0v18.0h-18.0ZM1760.6,784.8h18.0v18.0h-18.0Z"/>
<path shape-rendering="crispEdges" fill="#a7d0e4" d="M397.86,343.83 431.94,343.83 431.94,360.81 448.98,360.81 448.98,411.74 431.94,411.74 431.94,428.72 380.82,428.72 380.82,445.7 295.62,445.7 295.62,462.68 261.54,462.68 261.54,496.63 244.5,496.63 244.5,530.59 210.42,530.59 210.42,547.57 159.3,547.57 159.3,564.54 176.34,564.54 176.34,581.52 159.3,581.52 159.3,649.43 142.26,649.43 142.26,683.39 125.22,683.39 125.22,700.37 108.18,700.37 108.18,683.39 91.14,683.39 91.14,717.35 74.1,717.35 74.1,785.26 91.14,785.26 91.14,836.19 108.18,836.19 108.18,853.17 91.14,853.17 91.14,887.13 108.18,887.13 108.18,972.02 125.22,972.02 125.22,1022.95 142.26,1022.95 142.26,1039.93 125.22,1039.93 125.22,1056.91 142.26,1056.91 142.26,1073.88 176.34,1073.88 176.34,1090.86 193.38,1090.86 193.38,1107.84 295.62,1107.84 295.62,1073.88 363.78,1073.88 363.78,1107.84 397.86,1107.84 397.86,1124.82 414.9,1124.82 414.9,1107.84 431.94,1107.84 431.94,1124.82 466.02,1124.82 466.02,1192.73 448.98,1192.73 448.98,1209.71 380.82,1209.71 380.82,1175.75 363.78,1175.75 363.78,1158.77 346.74,1158.77 346.74,1141.8 295.62,1141.8 295.62,1124.82 261.54,1124.82 261.54,1141.8 244.5,1141.8 244.5,1158.77 261.54,1158.77 261.54,1226.69 278.58,1226.69 278.58,1209.71 295.62,1209.71 295.62,1243.66 380.82,1243.66 380.82,1260.64 397.86,1260.64 397.86,1277.62 414.9,1277.62 414.9,1294.6 448.98,1294.6 448.98,1311.58 466.02,1311.58 466.02,1328.55 500.1,1328.55 500.1,1345.53 534.18,1345.53 534.18,1362.51 551.22,1362.51 551.22,1379.49 619.38,1379.49 619.38,1396.47 704.58,1396.47 704.58,1413.44 721.62,1413.44 721.62,1379.49 789.78,1379.49 789.78,1396.47 823.86,1396.47 823.86,1413.44 840.9,1413.44 840.9,1447.4 857.94,1447.4 857.94,1464.38 874.98,1464.38 874.98,1481.36 892.02,1481.36 892.02,1515.31 926.1,1515.31 926.1,1481.36 943.14,1481.36 943.14,1413.44 926.1,1413.44 926.1,1396.47 994.26,1396.47 994.26,1413.44 1011.3,1413.44 1011.3,1430.42 1028.34,1430.42 1028.34,1447.4 1011.3,1447.4 1011.3,1515.31 1028.34,1515.31 1028.34,1549.27 1062.42,1549.27 1062.42,1481.36 1147.62,1481.36 1147.62,1549.27 1130.58,1549.27 1130.58,1600.2 1164.66,1600.2 1164.66,1617.18 1181.7,1617.18 1181.7,1634.16 1215.78,1634.16 1215.78,1651.14 1198.74,1651.14 1198.74,1668.11 1164.66,1668.11 1164.66,1685.09 1181.7,1685.09 1181.7,1753 1198.74,1753 1198.74,1769.98 1232.82,1769.98 1232.82,1786.96 1266.9,1786.96 1266.9,1803.94 1300.98,1803.94 1300.98,1702.07 1283.94,1702.07 1283.94,1668.11 1266.9,1668.11 1266.9,1634.16 1283.94,1634.16 1283.94,1600.2 1335.06,1600.2 1335.06,1583.22 1352.1,1583.22 1352.1,1566.25 1369.14,1566.25 1369.14,1583.22 1386.18,1583.22 1386.18,1549.27 1403.22,1549.27 1403.22,1532.29 1420.26,1532.29 1420.26,1498.33 1437.3,1498.33 1437.3,1481.36 1454.34,1481.36 1454.34,1464.38 1488.42,1464.38 1488.42,1447.4 1539.54,1447.4 1539.54,1464.38 1573.62,1464.38 1573.62,1481.36 1590.66,1481.36 1590.66,1498.33 1607.7,1498.33 1607.7,1515.31 1726.98,1515.31 1726.98,1481.36 1744.02,1481.36 1744.02,1447.4 1761.06,1447.4 1761.06,1430.42 1778.1,1430.42 1778.1,1447.4 1829.22,1447.4 1829.22,1481.36 1897.38,1481.36 1897.38,1498.33 1931.46,1498.33 1931.46,1515.31 1948.5,1515.31 1948.5,1532.29 1982.58,1532.29 1982.58,1515.31 1965.54,1515.31 1965.54,1481.36 1948.5,1481.36 1948.5,1413.44 1914.42,1413.44 1914.42,1430.42 1897.38,1430.42 1897.38,1413.44 1846.26,1413.44 1846.26,1311.58 1795.14,1311.58 1795.14,1294.6 1778.1,1294.6 1778.1,1226.69 1795.14,1226.69 1795.14,1192.73 1812.18,1192.73 1812.18,1175.75 1846.26,1175.75 1846.26,1158.77 1829.22,1158.77 1829.22,1107.84 1795.14,1107.84 1795.14,1056.91 1812.18,1056.91 1812.18,1039.93 1795.14,1039.93 1795.14,1022.95 1726.98,1022.95 1726.98,1056.91 1744.02,1056.91 1744.02,1124.82 1726.98,1124.82 1726.98,1141.8 1709.94,1141.8 1709.94,1158.77 1692.9,1158.77 1692.9,1226.69 1709.94,1226.69 1709.94,1260.64 1692.9,1260.64 1692.9,1277.62 1658.82,1277.62 1658.82,1311.58 1624.74,1311.58 1624.74,1362.51 1573.62,1362.51 1573.62,1345.53 1539.54,1345.53 1539.54,1294.6 1556.58,1294.6 1556.58,1277.62 1573.62,1277.62 1573.62,1260.64 1590.66,1260.64 1590.66,1192.73 1607.7,1192.73 1607.7,1158.77 1590.66,1158.77 1590.66,1141.8 1624.74,1141.8 1624.74,1107.84 1607.7,1107.84 1607.7,1090.86 1590.66,1090.86 1590.66,1073.88 1522.5,1073.88 1522.5,1056.91 1505.46,1056.91 1505.46,1090.86 1488.42,1090.86 1488.42,1107.84 1505.46,1107.84 1505.46,1141.8 1522.5,1141.8 1522.5,1158.77 1454.34,1158.77 1454.34,1175.75 1403.22,1175.75 1403.22,1158.77 1386.18,1158.77 1386.18,1107.84 1403.22,1107.84 1403.22,1090.86 1420.26,1090.86 1420.26,1073.88 1454.34,1073.88 1454.34,1056.91 1471.38,1056.91 1471.38,1022.95 1488.42,1022.95 1488.42,988.99 1454.34,988.99 1454.34,972.02 1352.1,972.02 1352.1,955.04 1335.06,955.04 1335.06,972.02 1300.98,972.02 1300.98,988.99 1232.82,988.99 1232.82,972.02 1215.78,972.02 1215.78,955.04 1198.74,955.04 1198.74,972.02 1181.7,972.02 1181.7,988.99 1096.5,988.99 1096.5,1005.97 1079.46,1005.97 1079.46,1022.95 1062.42,1022.95 1062.42,1039.93 1079.46,1039.93 1079.46,1073.88 1062.42,1073.88 1062.42,1124.82 1045.38,1124.82 1045.38,1141.8 1028.34,1141.8 1028.34,1158.77 960.18,1158.77 960.18,1175.75 909.06,1175.75 909.06,1141.8 892.02,1141.8 892.02,1039.93 874.98,1039.93 874.98,1005.97 892.02,1005.97 892.02,972.02 909.06,972.02 909.06,921.08 892.02,921.08 892.02,853.17 909.06,853.17 909.06,836.19 926.1,836.19 926.1,802.24 960.18,802.24 960.18,819.21 994.26,819.21 994.26,836.19 1011.3,836.19 1011.3,853.17 1028.34,853.17 1028.34,836.19 1045.38,836.19 1045.38,853.17 1062.42,853.17 1062.42,870.15 1079.46,870.15 1079.46,887.13 1130.58,887.13 1130.58,870.15 1181.7,870.15 1181.7,887.13 1198.74,887.13 1198.74,904.1 1215.78,904.1 1215.78,887.13 1232.82,887.13 1232.82,904.1 1249.86,904.1 1249.86,887.13 1266.9,887.13 1266.9,870.15 1283.94,870.15 1283.94,853.17 1300.98,853.17 1300.98,836.19 1318.02,836.19 1318.02,819.21 1335.06,819.21 1335.06,785.26 1352.1,785.26 1352.1,768.28 1335.06,768.28 1335.06,751.3 1283.94,751.3 1283.94,768.28 1249.86,768.28 1249.86,785.26 1232.82,785.26 1232.82,768.28 1164.66,768.28 1164.66,751.3 1130.58,751.3 1130.58,768.28 1045.38,768.28 1045.38,751.3 1028.34,751.3 1028.34,734.32 977.22,734.32 977.22,717.35 994.26,717.35 994.26,700.37 1011.3,700.37 1011.3,717.35 1062.42,717.35 1062.42,700.37 1096.5,700.37 1096.5,683.39 1130.58,683.39 1130.58,700.37 1147.62,700.37 1147.62,683.39 1164.66,683.39 1164.66,649.43 1181.7,649.43 1181.7,632.46 1164.66,632.46 1164.66,615.48 1096.5,615.48 1096.5,632.46 1079.46,632.46 1079.46,547.57 1113.54,547.57 1113.54,530.59 1164.66,530.59 1164.66,547.57 1198.74,547.57 1198.74,564.54 1215.78,564.54 1215.78,547.57 1266.9,547.57 1266.9,632.46 1283.94,632.46 1283.94,649.43 1335.06,649.43 1335.06,666.41 1352.1,666.41 1352.1,683.39 1369.14,683.39 1369.14,717.35 1386.18,717.35 1386.18,734.32 1420.26,734.32 1420.26,768.28 1437.3,768.28 1437.3,785.26 1454.34,785.26 1454.34,819.21 1437.3,819.21 1437.3,904.1 1454.34,904.1 1454.34,921.08 1488.42,921.08 1488.42,955.04 1539.54,955.04 1539.54,938.06 1590.66,938.06 1590.66,921.08 1607.7,921.08 1607.7,904.1 1641.78,904.1 1641.78,887.13 1709.94,887.13 1709.94,870.15 1726.98,870.15 1726.98,853.17 1778.1,853.17 1778.1,836.19 1795.14,836.19 1795.14,853.17 1829.22,853.17 1829.22,870.15 1812.18,870.15 1812.18,938.06 1846.26,938.06 1846.26,921.08 1863.3,921.08 1863.3,904.1 1880.34,904.1 1880.34,887.13 1897.38,887.13 1897.38,870.15 1931.46,870.15 1931.46,904.1 1948.5,904.1 1948.5,921.08 1965.54,921.08 1965.54,955.04 2033.7,955.04 2033.7,938.06 2067.78,938.06 2067.78,921.08 2050.74,921.08 2050.74,904.1 2067.78,904.1 2067.78,819.21 2033.7,819.21 2033.7,836.19 2016.66,836.19 2016.66,853.17 1931.46,853.17 1931.46,836.19 1914.42,836.19 1914.42,802.24 1948.5,802.24 1948.5,700.37 1965.54,700.37 1965.54,717.35 1982.58,717.35 1982.58,683.39 1965.54,683.39 1965.54,632.46 1931.46,632.46 1931.46,649.43 1914.42,649.43 1914.42,615.48 1931.46,615.48 1931.46,598.5 1914.42,598.5 1914.42,564.54 1897.38,564.54 1897.38,547.57 1829.22,547.57 1829.22,581.52 1795.14,581.52 1795.14,717.35 1812.18,717.35 1812.18,768.28 1795.14,768.28 1795.14,785.26 1778.1,785.26 1778.1,802.24 1761.06,802.24 1761.06,785.26 1744.02,785.26 1744.02,717.35 1726.98,717.35 1726.98,700.37 1744.02,700.37 1744.02,615.48 1761.06,615.48 1761.06,581.52 1675.86,581.52 1675.86,598.5 1658.82,598.5 1658.82,632.46 1641.78,632.46 1641.78,666.41 1607.7,666.41 1607.7,649.43 1471.38,649.43 1471.38,632.46 1454.34,632.46 1454.34,598.5 1471.38,598.5 1471.38,581.52 1488.42,581.52 1488.42,564.54 1505.46,564.54 1505.46,530.59 1488.42,530.59 1488.42,547.57 1471.38,547.57 1471.38,496.63 1454.34,496.63 1454.34,530.59 1437.3,530.59 1437.3,547.57 1335.06,547.57 1335.06,428.72 1300.98,428.72 1300.98,411.74 1266.9,411.74 1266.9,428.72 1215.78,428.72 1215.78,411.74 1198.74,411.74 1198.74,394.76 1215.78,394.76 1215.78,360.81 1079.46,360.81 1079.46,343.83 943.14,343.83 943.14,326.85 840.9,326.85 840.9,309.87 772.74,309.87 772.74,292.9 687.54,292.9 687.54,275.92 602.34,275.92 602.34,258.94 534.18,258.94 534.18,292.9 517.14,292.9 517.14,326.85 500.1,326.85 500.1,309.87 466.02,309.87 466.02,275.92 431.94,275.92 431.94,292.9 414.9,292.9 414.9,309.87 397.86,309.87ZM1045.38,1481.36 1045.38,1464.38 1062.42,1464.38 1062.42,1481.36ZM1420.26,1481.36 1420.26,1464.38 1437.3,1464.38 1437.3,1481.36ZM1709.94,1277.62 1709.94,1294.6 1692.9,1294.6 1692.9,1277.62ZM1761.06,1294.6 1761.06,1345.53 1744.02,1345.53 1744.02,1379.49 1726.98,1379.49 1726.98,1396.47 1675.86,1396.47 1675.86,1379.49 1641.78,1379.49 1641.78,1345.53 1658.82,1345.53 1658.82,1328.55 1675.86,1328.55 1675.86,1311.58 1709.94,1311.58 1709.94,1294.6ZM1914.42,666.41 1897.38,666.41 1897.38,649.43 1914.42,649.43ZM1215.78,1464.38 1164.66,1464.38 1164.66,1447.4 1147.62,1447.4 1147.62,1396.47 1113.54,1396.47 1113.54,1362.51 1096.5,1362.51 1096.5,1345.53 1113.54,1345.53 1113.54,1328.55 1130.58,1328.55 1130.58,1311.58 1164.66,1311.58 1164.66,1294.6 1181.7,1294.6 1181.7,1277.62 1215.78,1277.62 1215.78,1243.66 1232.82,1243.66 1232.82,1226.69 1318.02,1226.69 1318.02,1243.66 1335.06,1243.66 1335.06,1260.64 1369.14,1260.64 1369.14,1277.62 1386.18,1277.62 1386.18,1294.6 1420.26,1294.6 1420.26,1311.58 1403.22,1311.58 1403.22,1345.53 1386.18,1345.53 1386.18,1362.51 1369.14,1362.51 1369.14,1379.49 1352.1,1379.49 1352.1,1396.47 1335.06,1396.47 1335.06,1447.4 1318.02,1447.4 1318.02,1464.38 1249.86,1464.38 1249.86,1481.36 1215.78,1481.36ZM1198.74,1209.71 1198.74,1192.73 1181.7,1192.73 1181.7,1175.75 1164.66,1175.75 1164.66,1141.8 1147.62,1141.8 1147.62,1090.86 1181.7,1090.86 1181.7,1073.88 1215.78,1073.88 1215.78,1090.86 1300.98,1090.86 1300.98,1073.88 1318.02,1073.88 1318.02,1090.86 1335.06,1090.86 1335.06,1107.84 1369.14,1107.84 1369.14,1124.82 1352.1,1124.82 1352.1,1175.75 1335.06,1175.75 1335.06,1192.73 1318.02,1192.73 1318.02,1175.75 1300.98,1175.75 1300.98,1192.73 1249.86,1192.73 1249.86,1209.71ZM704.58,853.17 687.54,853.17 687.54,870.15 653.46,870.15 653.46,853.17 636.42,853.17 636.42,836.19 653.46,836.19 653.46,819.21 670.5,819.21 670.5,785.26 704.58,785.26ZM636.42,870.15 619.38,870.15 619.38,853.17 636.42,853.17ZM619.38,955.04 585.3,955.04 585.3,921.08 568.26,921.08 568.26,904.1 585.3,904.1 585.3,887.13 602.34,887.13 602.34,870.15 619.38,870.15ZM857.94,649.43 874.98,649.43 874.98,700.37 857.94,700.37ZM892.02,598.5 874.98,598.5 874.98,581.52 840.9,581.52 840.9,564.54 874.98,564.54 874.98,547.57 892.02,547.57 892.02,530.59 909.06,530.59 909.06,513.61 960.18,513.61 960.18,496.63 977.22,496.63 977.22,547.57 994.26,547.57 994.26,581.52 1011.3,581.52 1011.3,632.46 892.02,632.46ZM823.86,564.54 823.86,547.57 840.9,547.57 840.9,564.54ZM670.5,513.61 653.46,513.61 653.46,530.59 636.42,530.59 636.42,547.57 568.26,547.57 568.26,496.63 585.3,496.63 585.3,462.68 602.34,462.68 602.34,445.7 619.38,445.7 619.38,411.74 670.5,411.74 670.5,394.76 687.54,394.76 687.54,411.74 704.58,411.74 704.58,428.72 721.62,428.72 721.62,445.7 704.58,445.7 704.58,462.68 687.54,462.68 687.54,496.63 670.5,496.63ZM670.5,666.41 704.58,666.41 704.58,683.39 721.62,683.39 721.62,717.35 704.58,717.35 704.58,751.3 670.5,751.3ZM244.5,734.32 244.5,717.35 261.54,717.35 261.54,734.32ZM227.46,717.35 227.46,683.39 210.42,683.39 210.42,666.41 244.5,666.41 244.5,717.35ZM670.5,1039.93 738.66,1039.93 738.66,1056.91 755.7,1056.91 755.7,1073.88 636.42,1073.88 636.42,1056.91 670.5,1056.91ZM823.86,1005.97 823.86,1022.95 806.82,1022.95 806.82,1005.97ZM738.66,955.04 721.62,955.04 721.62,938.06 738.66,938.06 738.66,921.08 772.74,921.08 772.74,938.06 755.7,938.06 755.7,955.04 772.74,955.04 772.74,988.99 738.66,988.99ZM261.54,938.06 261.54,955.04 244.5,955.04 244.5,972.02 227.46,972.02 227.46,921.08 244.5,921.08 244.5,938.06ZM619.38,1226.69 653.46,1226.69 653.46,1209.71 721.62,1209.71 721.62,1226.69 755.7,1226.69 755.7,1243.66 721.62,1243.66 721.62,1260.64 755.7,1260.64 755.7,1277.62 738.66,1277.62 738.66,1294.6 704.58,1294.6 704.58,1311.58 670.5,1311.58 670.5,1294.6 636.42,1294.6 636.42,1277.62 619.38,1277.62ZM943.14,1294.6 943.14,1311.58 926.1,1311.58 926.1,1294.6ZM1215.78,1515.31 1198.74,1515.31 1198.74,1498.33 1266.9,1498.33 1266.9,1532.29 1249.86,1532.29 1249.86,1549.27 1232.82,1549.27 1232.82,1532.29 1215.78,1532.29ZM159.3,581.52 159.3,564.54 142.26,564.54 142.26,581.52ZM960.18,1447.4 960.18,1464.38 977.22,1464.38 977.22,1447.4ZM1352.1,377.79 1352.1,445.7 1369.14,445.7 1369.14,428.72 1403.22,428.72 1403.22,411.74 1437.3,411.74 1437.3,377.79 1420.26,377.79 1420.26,343.83 1403.22,343.83 1403.22,360.81 1335.06,360.81 1335.06,377.79ZM1607.7,428.72 1607.7,411.74 1590.66,411.74 1590.66,445.7 1624.74,445.7 1624.74,428.72ZM1658.82,411.74 1658.82,428.72 1675.86,428.72 1675.86,411.74ZM1471.38,445.7 1471.38,462.68 1505.46,462.68 1505.46,445.7ZM1471.38,955.04 1471.38,972.02 1488.42,972.02 1488.42,955.04ZM1471.38,1056.91 1471.38,1073.88 1488.42,1073.88 1488.42,1056.91ZM1880.34,513.61 1880.34,496.63 1829.22,496.63 1829.22,530.59 1897.38,530.59 1897.38,513.61ZM1948.5,836.19 1948.5,819.21 1931.46,819.21 1931.46,836.19ZM1999.62,1141.8 1999.62,1107.84 1948.5,1107.84 1948.5,1124.82 1965.54,1124.82 1965.54,1141.8ZM1880.34,1192.73 1880.34,1209.71 1897.38,1209.71 1897.38,1192.73ZM2238.18,547.57 2238.18,564.54 2255.22,564.54 2255.22,547.57ZM2221.14,564.54 2221.14,581.52 2238.18,581.52 2238.18,564.54ZM2272.26,717.35 2204.1,717.35 2204.1,700.37 2187.06,700.37 2187.06,717.35 2135.94,717.35 2135.94,768.28 2152.98,768.28 2152.98,785.26 2187.06,785.26 2187.06,802.24 2289.3,802.24 2289.3,785.26 2340.42,785.26 2340.42,768.28 2357.46,768.28 2357.46,717.35 2340.42,717.35 2340.42,700.37 2272.26,700.37ZM2016.66,1141.8 1999.62,1141.8 1999.62,1175.75 2016.66,1175.75 2016.66,1158.77 2050.74,1158.77 2050.74,1175.75 2084.82,1175.75 2084.82,1192.73 2135.94,1192.73 2135.94,1175.75 2152.98,1175.75 2152.98,1192.73 2187.06,1192.73 2187.06,1226.69 2204.1,1226.69 2204.1,1209.71 2221.14,1209.71 2221.14,1226.69 2255.22,1226.69 2255.22,1192.73 2272.26,1192.73 2272.26,1209.71 2289.3,1209.71 2289.3,1192.73 2306.34,1192.73 2306.34,1158.77 2323.38,1158.77 2323.38,1141.8 2306.34,1141.8 2306.34,1124.82 2187.06,1124.82 2187.06,1141.8 2170.02,1141.8 2170.02,1158.77 2152.98,1158.77 2152.98,1141.8 2135.94,1141.8 2135.94,1124.82 2101.86,1124.82 2101.86,1107.84 2067.78,1107.84 2067.78,1124.82 2050.74,1124.82 2050.74,1107.84 2016.66,1107.84ZM2050.74,1481.36 2033.7,1481.36 2033.7,1498.33 2050.74,1498.33 2050.74,1515.31 2067.78,1515.31 2067.78,1532.29 2084.82,1532.29 2084.82,1549.27 2101.86,1549.27 2101.86,1566.25 2118.9,1566.25 2118.9,1481.36 2101.86,1481.36 2101.86,1464.38 2118.9,1464.38 2118.9,1447.4 2135.94,1447.4 2135.94,1379.49 2067.78,1379.49 2067.78,1396.47 2050.74,1396.47ZM2135.94,1583.22 2118.9,1583.22 2118.9,1600.2 2135.94,1600.2ZM2118.9,1617.18 2118.9,1634.16 2135.94,1634.16 2135.94,1617.18ZM2187.06,1685.09 2187.06,1702.07 2170.02,1702.07 2170.02,1719.05 2187.06,1719.05 2187.06,1736.03 2221.14,1736.03 2221.14,1769.98 2272.26,1769.98 2272.26,1753 2289.3,1753 2289.3,1702.07 2272.26,1702.07 2272.26,1634.16 2255.22,1634.16 2255.22,1668.11 2238.18,1668.11 2238.18,1685.09ZM2204.1,1769.98 2204.1,1786.96 2221.14,1786.96 2221.14,1769.98ZM2170.02,1769.98 2170.02,1786.96 2187.06,1786.96 2187.06,1769.98ZM2135.94,1769.98 2135.94,1786.96 2152.98,1786.96 2152.98,1769.98Z"/>
<path shape-rendering="crispEdges" fill="#529dc8" d="M244.5,208.01 244.5,191.03 227.46,191.03 227.46,309.87 210.42,309.87 210.42,377.79 193.38,377.79 193.38,411.74 176.34,411.74 176.34,445.7 159.3,445.7 159.3,479.65 142.26,479.65 142.26,496.63 125.22,496.63 125.22,547.57 108.18,547.57 108.18,615.48 91.14,615.48 91.14,649.43 74.1,649.43 74.1,683.39 108.18,683.39 108.18,700.37 125.22,700.37 125.22,683.39 142.26,683.39 142.26,649.43 159.3,649.43 159.3,581.52 142.26,581.52 142.26,564.54 159.3,564.54 159.3,547.57 210.42,547.57 210.42,530.59 244.5,530.59 244.5,496.63 261.54,496.63 261.54,462.68 295.62,462.68 295.62,445.7 380.82,445.7 380.82,428.72 431.94,428.72 431.94,411.74 448.98,411.74 448.98,360.81 431.94,360.81 431.94,343.83 397.86,343.83 397.86,309.87 414.9,309.87 414.9,292.9 431.94,292.9 431.94,275.92 466.02,275.92 466.02,309.87 500.1,309.87 500.1,326.85 517.14,326.85 517.14,292.9 534.18,292.9 534.18,241.96 466.02,241.96 466.02,224.98 414.9,224.98 414.9,208.01 363.78,208.01 363.78,191.03 312.66,191.03 312.66,208.01 295.62,208.01 295.62,224.98 261.54,224.98 261.54,208.01ZM312.66,224.98 312.66,241.96 295.62,241.96 295.62,224.98ZM585.3,462.68 585.3,496.63 568.26,496.63 568.26,547.57 636.42,547.57 636.42,530.59 653.46,530.59 653.46,513.61 670.5,513.61 670.5,496.63 687.54,496.63 687.54,462.68 704.58,462.68 704.58,445.7 721.62,445.7 721.62,428.72 704.58,428.72 704.58,411.74 687.54,411.74 687.54,394.76 670.5,394.76 670.5,411.74 619.38,411.74 619.38,445.7 602.34,445.7 602.34,462.68ZM159.3,581.52 176.34,581.52 176.34,564.54 159.3,564.54ZM755.7,1056.91 738.66,1056.91 738.66,1039.93 670.5,1039.93 670.5,1056.91 636.42,1056.91 636.42,1073.88 755.7,1073.88ZM295.62,1107.84 210.42,1107.84 210.42,1124.82 227.46,1124.82 227.46,1141.8 261.54,1141.8 261.54,1124.82 295.62,1124.82 295.62,1141.8 346.74,1141.8 346.74,1158.77 363.78,1158.77 363.78,1175.75 380.82,1175.75 380.82,1209.71 448.98,1209.71 448.98,1192.73 466.02,1192.73 466.02,1124.82 431.94,1124.82 431.94,1107.84 414.9,1107.84 414.9,1124.82 397.86,1124.82 397.86,1107.84 363.78,1107.84 363.78,1073.88 295.62,1073.88ZM278.58,1209.71 278.58,1226.69 295.62,1226.69 295.62,1209.71ZM892.02,547.57 874.98,547.57 874.98,564.54 840.9,564.54 840.9,581.52 874.98,581.52 874.98,598.5 892.02,598.5 892.02,632.46 1011.3,632.46 1011.3,581.52 994.26,581.52 994.26,547.57 977.22,547.57 977.22,496.63 960.18,496.63 960.18,513.61 909.06,513.61 909.06,530.59 892.02,530.59ZM823.86,547.57 823.86,564.54 840.9,564.54 840.9,547.57ZM1164.66,547.57 1164.66,530.59 1113.54,530.59 1113.54,547.57 1079.46,547.57 1079.46,632.46 1096.5,632.46 1096.5,615.48 1164.66,615.48 1164.66,632.46 1181.7,632.46 1181.7,649.43 1164.66,649.43 1164.66,683.39 1147.62,683.39 1147.62,700.37 1130.58,700.37 1130.58,683.39 1096.5,683.39 1096.5,700.37 1062.42,700.37 1062.42,717.35 1011.3,717.35 1011.3,700.37 994.26,700.37 994.26,717.35 977.22,717.35 977.22,734.32 1028.34,734.32 1028.34,751.3 1045.38,751.3 1045.38,768.28 1130.58,768.28 1130.58,751.3 1164.66,751.3 1164.66,768.28 1232.82,768.28 1232.82,785.26 1249.86,785.26 1249.86,768.28 1283.94,768.28 1283.94,751.3 1335.06,751.3 1335.06,768.28 1352.1,768.28 1352.1,785.26 1335.06,785.26 1335.06,819.21 1318.02,819.21 1318.02,836.19 1300.98,836.19 1300.98,853.17 1283.94,853.17 1283.94,870.15 1266.9,870.15 1266.9,887.13 1249.86,887.13 1249.86,904.1 1232.82,904.1 1232.82,887.13 1215.78,887.13 1215.78,904.1 1198.74,904.1 1198.74,887.13 1181.7,887.13 1181.7,870.15 1130.58,870.15 1130.58,887.13 1079.46,887.13 1079.46,870.15 1062.42,870.15 1062.42,853.17 1045.38,853.17 1045.38,836.19 1028.34,836.19 1028.34,853.17 1011.3,853.17 1011.3,836.19 994.26,836.19 994.26,819.21 960.18,819.21 960.18,802.24 926.1,802.24 926.1,836.19 909.06,836.19 909.06,853.17 892.02,853.17 892.02,921.08 909.06,921.08 909.06,972.02 892.02,972.02 892.02,1005.97 874.98,1005.97 874.98,1039.93 892.02,1039.93 892.02,1141.8 909.06,1141.8 909.06,1175.75 960.18,1175.75 960.18,1158.77 1028.34,1158.77 1028.34,1141.8 1045.38,1141.8 1045.38,1124.82 1062.42,1124.82 1062.42,1073.88 1079.46,1073.88 1079.46,1039.93 1062.42,1039.93 1062.42,1022.95 1079.46,1022.95 1079.46,1005.97 1096.5,1005.97 1096.5,988.99 1181.7,988.99 1181.7,972.02 1198.74,972.02 1198.74,955.04 1215.78,955.04 1215.78,972.02 1232.82,972.02 1232.82,988.99 1300.98,988.99 1300.98,972.02 1335.06,972.02 1335.06,955.04 1352.1,955.04 1352.1,972.02 1454.34,972.02 1454.34,988.99 1488.42,988.99 1488.42,1022.95 1471.38,1022.95 1471.38,1056.91 1454.34,1056.91 1454.34,1073.88 1420.26,1073.88 1420.26,1090.86 1403.22,1090.86 1403.22,1107.84 1386.18,1107.84 1386.18,1158.77 1403.22,1158.77 1403.22,1175.75 1454.34,1175.75 1454.34,1158.77 1522.5,1158.77 1522.5,1141.8 1505.46,1141.8 1505.46,1107.84 1488.42,1107.84 1488.42,1090.86 1505.46,1090.86 1505.46,1056.91 1522.5,1056.91 1522.5,1073.88 1590.66,1073.88 1590.66,1090.86 1607.7,1090.86 1607.7,1107.84 1624.74,1107.84 1624.74,1141.8 1590.66,1141.8 1590.66,1158.77 1607.7,1158.77 1607.7,1192.73 1590.66,1192.73 1590.66,1260.64 1573.62,1260.64 1573.62,1277.62 1556.58,1277.62 1556.58,1294.6 1539.54,1294.6 1539.54,1345.53 1573.62,1345.53 1573.62,1362.51 1624.74,1362.51 1624.74,1311.58 1658.82,1311.58 1658.82,1277.62 1692.9,1277.62 1692.9,1260.64 1709.94,1260.64 1709.94,1226.69 1692.9,1226.69 1692.9,1158.77 1709.94,1158.77 1709.94,1141.8 1726.98,1141.8 1726.98,1124.82 1744.02,1124.82 1744.02,1056.91 1726.98,1056.91 1726.98,1022.95 1795.14,1022.95 1795.14,1039.93 1812.18,1039.93 1812.18,1056.91 1795.14,1056.91 1795.14,1107.84 1829.22,1107.84 1829.22,1158.77 1846.26,1158.77 1846.26,1175.75 1812.18,1175.75 1812.18,1192.73 1795.14,1192.73 1795.14,1226.69 1778.1,1226.69 1778.1,1294.6 1795.14,1294.6 1795.14,1311.58 1846.26,1311.58 1846.26,1413.44 1897.38,1413.44 1897.38,1430.42 1914.42,1430.42 1914.42,1413.44 1948.5,1413.44 1948.5,1481.36 1965.54,1481.36 1965.54,1515.31 1999.62,1515.31 1999.62,1498.33 2033.7,1498.33 2033.7,1481.36 2050.74,1481.36 2050.74,1396.47 2067.78,1396.47 2067.78,1379.49 2135.94,1379.49 2135.94,1447.4 2118.9,1447.4 2118.9,1464.38 2101.86,1464.38 2101.86,1481.36 2118.9,1481.36 2118.9,1583.22 2135.94,1583.22 2135.94,1600.2 2101.86,1600.2 2101.86,1634.16 2118.9,1634.16 2118.9,1651.14 2135.94,1651.14 2135.94,1685.09 2152.98,1685.09 2152.98,1702.07 2187.06,1702.07 2187.06,1685.09 2238.18,1685.09 2238.18,1668.11 2255.22,1668.11 2255.22,1600.2 2238.18,1600.2 2238.18,1549.27 2221.14,1549.27 2221.14,1532.29 2204.1,1532.29 2204.1,1515.31 2187.06,1515.31 2187.06,1481.36 2170.02,1481.36 2170.02,1447.4 2152.98,1447.4 2152.98,1362.51 2170.02,1362.51 2170.02,1328.55 2187.06,1328.55 2187.06,1311.58 2204.1,1311.58 2204.1,1294.6 2221.14,1294.6 2221.14,1277.62 2238.18,1277.62 2238.18,1226.69 2221.14,1226.69 2221.14,1209.71 2204.1,1209.71 2204.1,1226.69 2187.06,1226.69 2187.06,1192.73 2152.98,1192.73 2152.98,1175.75 2135.94,1175.75 2135.94,1192.73 2084.82,1192.73 2084.82,1175.75 2050.74,1175.75 2050.74,1158.77 2016.66,1158.77 2016.66,1175.75 1999.62,1175.75 1999.62,1141.8 2016.66,1141.8 2016.66,1107.84 2050.74,1107.84 2050.74,1124.82 2067.78,1124.82 2067.78,1107.84 2101.86,1107.84 2101.86,1124.82 2135.94,1124.82 2135.94,1141.8 2152.98,1141.8 2152.98,1158.77 2170.02,1158.77 2170.02,1141.8 2187.06,1141.8 2187.06,1124.82 2306.34,1124.82 2306.34,1141.8 2357.46,1141.8 2357.46,1124.82 2374.5,1124.82 2374.5,1107.84 2391.54,1107.84 2391.54,1039.93 2374.5,1039.93 2374.5,1022.95 2357.46,1022.95 2357.46,938.06 2374.5,938.06 2374.5,836.19 2391.54,836.19 2391.54,751.3 2408.58,751.3 2408.58,734.32 2425.62,734.32 2425.62,717.35 2459.7,717.35 2459.7,700.37 2476.74,700.37 2476.74,666.41 2544.9,666.41 2544.9,615.48 2493.78,615.48 2493.78,581.52 2476.74,581.52 2476.74,564.54 2493.78,564.54 2493.78,513.61 2510.82,513.61 2510.82,496.63 2544.9,496.63 2544.9,479.65 2561.94,479.65 2561.94,462.68 2578.98,462.68 2578.98,445.7 2596.02,445.7 2596.02,394.76 2578.98,394.76 2578.98,377.79 2544.9,377.79 2544.9,326.85 2527.86,326.85 2527.86,292.9 2459.7,292.9 2459.7,326.85 2442.66,326.85 2442.66,428.72 2425.62,428.72 2425.62,445.7 2408.58,445.7 2408.58,462.68 2374.5,462.68 2374.5,479.65 2306.34,479.65 2306.34,496.63 2272.26,496.63 2272.26,513.61 2255.22,513.61 2255.22,530.59 2238.18,530.59 2238.18,547.57 2255.22,547.57 2255.22,564.54 2238.18,564.54 2238.18,598.5 2221.14,598.5 2221.14,632.46 2118.9,632.46 2118.9,666.41 2135.94,666.41 2135.94,683.39 2118.9,683.39 2118.9,700.37 2101.86,700.37 2101.86,717.35 2084.82,717.35 2084.82,734.32 2050.74,734.32 2050.74,751.3 2033.7,751.3 2033.7,768.28 1999.62,768.28 1999.62,785.26 1982.58,785.26 1982.58,768.28 1965.54,768.28 1965.54,785.26 1948.5,785.26 1948.5,802.24 1914.42,802.24 1914.42,836.19 1931.46,836.19 1931.46,853.17 2016.66,853.17 2016.66,836.19 2033.7,836.19 2033.7,819.21 2067.78,819.21 2067.78,904.1 2050.74,904.1 2050.74,921.08 2067.78,921.08 2067.78,938.06 2033.7,938.06 2033.7,955.04 1965.54,955.04 1965.54,921.08 1948.5,921.08 1948.5,904.1 1931.46,904.1 1931.46,870.15 1897.38,870.15 1897.38,887.13 1880.34,887.13 1880.34,904.1 1863.3,904.1 1863.3,921.08 1846.26,921.08 1846.26,938.06 1812.18,938.06 1812.18,870.15 1829.22,870.15 1829.22,853.17 1795.14,853.17 1795.14,836.19 1778.1,836.19 1778.1,853.17 1726.98,853.17 1726.98,870.15 1709.94,870.15 1709.94,887.13 1641.78,887.13 1641.78,904.1 1607.7,904.1 1607.7,921.08 1590.66,921.08 1590.66,938.06 1539.54,938.06 1539.54,955.04 1488.42,955.04 1488.42,921.08 1454.34,921.08 1454.34,904.1 1437.3,904.1 1437.3,819.21 1454.34,819.21 1454.34,785.26 1437.3,785.26 1437.3,768.28 1420.26,768.28 1420.26,734.32 1386.18,734.32 1386.18,717.35 1369.14,717.35 1369.14,683.39 1352.1,683.39 1352.1,666.41 1335.06,666.41 1335.06,649.43 1283.94,649.43 1283.94,632.46 1266.9,632.46 1266.9,547.57 1215.78,547.57 1215.78,564.54 1198.74,564.54 1198.74,547.57ZM1488.42,1056.91 1488.42,1073.88 1471.38,1073.88 1471.38,1056.91ZM2118.9,1617.18 2135.94,1617.18 2135.94,1634.16 2118.9,1634.16ZM1965.54,1141.8 1965.54,1124.82 1948.5,1124.82 1948.5,1107.84 1999.62,1107.84 1999.62,1141.8ZM1931.46,819.21 1948.5,819.21 1948.5,836.19 1931.46,836.19ZM1488.42,972.02 1471.38,972.02 1471.38,955.04 1488.42,955.04ZM1897.38,1192.73 1897.38,1209.71 1880.34,1209.71 1880.34,1192.73ZM2152.98,785.26 2152.98,768.28 2135.94,768.28 2135.94,717.35 2187.06,717.35 2187.06,700.37 2204.1,700.37 2204.1,717.35 2272.26,717.35 2272.26,700.37 2340.42,700.37 2340.42,717.35 2357.46,717.35 2357.46,768.28 2340.42,768.28 2340.42,785.26 2289.3,785.26 2289.3,802.24 2187.06,802.24 2187.06,785.26ZM874.98,649.43 857.94,649.43 857.94,700.37 874.98,700.37ZM943.14,1294.6 926.1,1294.6 926.1,1311.58 943.14,1311.58ZM926.1,1481.36 926.1,1515.31 892.02,1515.31 892.02,1532.29 909.06,1532.29 909.06,1549.27 926.1,1549.27 926.1,1566.25 943.14,1566.25 943.14,1583.22 977.22,1583.22 977.22,1566.25 994.26,1566.25 994.26,1549.27 1011.3,1549.27 1011.3,1532.29 1028.34,1532.29 1028.34,1515.31 1011.3,1515.31 1011.3,1447.4 1028.34,1447.4 1028.34,1430.42 1011.3,1430.42 1011.3,1413.44 994.26,1413.44 994.26,1396.47 926.1,1396.47 926.1,1413.44 943.14,1413.44 943.14,1481.36ZM960.18,1464.38 960.18,1447.4 977.22,1447.4 977.22,1464.38ZM1062.42,1481.36 1062.42,1464.38 1045.38,1464.38 1045.38,1481.36ZM1079.46,1549.27 1079.46,1566.25 1096.5,1566.25 1096.5,1583.22 1113.54,1583.22 1113.54,1634.16 1130.58,1634.16 1130.58,1651.14 1147.62,1651.14 1147.62,1685.09 1164.66,1685.09 1164.66,1668.11 1198.74,1668.11 1198.74,1651.14 1215.78,1651.14 1215.78,1634.16 1181.7,1634.16 1181.7,1617.18 1164.66,1617.18 1164.66,1600.2 1130.58,1600.2 1130.58,1549.27 1147.62,1549.27 1147.62,1481.36 1062.42,1481.36 1062.42,1549.27ZM1215.78,428.72 1266.9,428.72 1266.9,411.74 1300.98,411.74 1300.98,428.72 1335.06,428.72 1335.06,547.57 1437.3,547.57 1437.3,530.59 1454.34,530.59 1454.34,496.63 1471.38,496.63 1471.38,547.57 1488.42,547.57 1488.42,530.59 1505.46,530.59 1505.46,564.54 1488.42,564.54 1488.42,581.52 1471.38,581.52 1471.38,598.5 1454.34,598.5 1454.34,632.46 1471.38,632.46 1471.38,649.43 1607.7,649.43 1607.7,666.41 1641.78,666.41 1641.78,632.46 1658.82,632.46 1658.82,598.5 1675.86,598.5 1675.86,581.52 1744.02,581.52 1744.02,564.54 1778.1,564.54 1778.1,547.57 1795.14,547.57 1795.14,530.59 1829.22,530.59 1829.22,479.65 1795.14,479.65 1795.14,496.63 1726.98,496.63 1726.98,479.65 1692.9,479.65 1692.9,462.68 1675.86,462.68 1675.86,479.65 1658.82,479.65 1658.82,496.63 1624.74,496.63 1624.74,513.61 1590.66,513.61 1590.66,496.63 1556.58,496.63 1556.58,479.65 1573.62,479.65 1573.62,462.68 1590.66,462.68 1590.66,411.74 1573.62,411.74 1573.62,428.72 1556.58,428.72 1556.58,411.74 1522.5,411.74 1522.5,394.76 1437.3,394.76 1437.3,411.74 1403.22,411.74 1403.22,428.72 1369.14,428.72 1369.14,445.7 1352.1,445.7 1352.1,377.79 1335.06,377.79 1335.06,360.81 1215.78,360.81 1215.78,394.76 1198.74,394.76 1198.74,411.74 1215.78,411.74ZM1556.58,513.61 1539.54,513.61 1539.54,496.63 1556.58,496.63ZM1471.38,462.68 1471.38,445.7 1505.46,445.7 1505.46,462.68ZM1164.66,1141.8 1164.66,1175.75 1181.7,1175.75 1181.7,1192.73 1198.74,1192.73 1198.74,1209.71 1249.86,1209.71 1249.86,1192.73 1300.98,1192.73 1300.98,1175.75 1318.02,1175.75 1318.02,1192.73 1335.06,1192.73 1335.06,1175.75 1352.1,1175.75 1352.1,1124.82 1369.14,1124.82 1369.14,1107.84 1335.06,1107.84 1335.06,1090.86 1318.02,1090.86 1318.02,1073.88 1300.98,1073.88 1300.98,1090.86 1215.78,1090.86 1215.78,1073.88 1181.7,1073.88 1181.7,1090.86 1147.62,1090.86 1147.62,1141.8ZM1318.02,1226.69 1232.82,1226.69 1232.82,1243.66 1215.78,1243.66 1215.78,1277.62 1181.7,1277.62 1181.7,1294.6 1164.66,1294.6 1164.66,1311.58 1130.58,1311.58 1130.58,1328.55 1113.54,1328.55 1113.54,1345.53 1096.5,1345.53 1096.5,1362.51 1113.54,1362.51 1113.54,1396.47 1147.62,1396.47 1147.62,1447.4 1164.66,1447.4 1164.66,1464.38 1215.78,1464.38 1215.78,1481.36 1249.86,1481.36 1249.86,1464.38 1318.02,1464.38 1318.02,1447.4 1335.06,1447.4 1335.06,1396.47 1352.1,1396.47 1352.1,1379.49 1369.14,1379.49 1369.14,1362.51 1386.18,1362.51 1386.18,1345.53 1403.22,1345.53 1403.22,1311.58 1420.26,1311.58 1420.26,1294.6 1386.18,1294.6 1386.18,1277.62 1369.14,1277.62 1369.14,1260.64 1335.06,1260.64 1335.06,1243.66 1318.02,1243.66ZM1249.86,1532.29 1266.9,1532.29 1266.9,1498.33 1198.74,1498.33 1198.74,1515.31 1215.78,1515.31 1215.78,1532.29 1232.82,1532.29 1232.82,1549.27 1249.86,1549.27ZM1181.7,1685.09 1164.66,1685.09 1164.66,1736.03 1181.7,1736.03ZM1181.7,1753 1181.7,1769.98 1198.74,1769.98 1198.74,1753ZM1215.78,1769.98 1215.78,1786.96 1232.82,1786.96 1232.82,1769.98ZM1403.22,326.85 1403.22,343.83 1420.26,343.83 1420.26,326.85ZM1420.26,1498.33 1420.26,1532.29 1403.22,1532.29 1403.22,1549.27 1386.18,1549.27 1386.18,1583.22 1369.14,1583.22 1369.14,1566.25 1352.1,1566.25 1352.1,1583.22 1335.06,1583.22 1335.06,1600.2 1283.94,1600.2 1283.94,1634.16 1266.9,1634.16 1266.9,1668.11 1283.94,1668.11 1283.94,1702.07 1300.98,1702.07 1300.98,1668.11 1318.02,1668.11 1318.02,1651.14 1352.1,1651.14 1352.1,1634.16 1386.18,1634.16 1386.18,1617.18 1403.22,1617.18 1403.22,1600.2 1420.26,1600.2 1420.26,1583.22 1454.34,1583.22 1454.34,1566.25 1488.42,1566.25 1488.42,1549.27 1522.5,1549.27 1522.5,1566.25 1590.66,1566.25 1590.66,1549.27 1607.7,1549.27 1607.7,1566.25 1624.74,1566.25 1624.74,1583.22 1692.9,1583.22 1692.9,1566.25 1709.94,1566.25 1709.94,1583.22 1726.98,1583.22 1726.98,1600.2 1744.02,1600.2 1744.02,1583.22 1761.06,1583.22 1761.06,1566.25 1726.98,1566.25 1726.98,1515.31 1607.7,1515.31 1607.7,1498.33 1590.66,1498.33 1590.66,1481.36 1573.62,1481.36 1573.62,1464.38 1539.54,1464.38 1539.54,1447.4 1488.42,1447.4 1488.42,1464.38 1454.34,1464.38 1454.34,1481.36 1437.3,1481.36 1437.3,1498.33ZM1420.26,1464.38 1420.26,1481.36 1437.3,1481.36 1437.3,1464.38ZM1692.9,462.68 1709.94,462.68 1709.94,445.7 1692.9,445.7ZM1590.66,479.65 1590.66,496.63 1607.7,496.63 1607.7,479.65ZM1692.9,1277.62 1692.9,1294.6 1709.94,1294.6 1709.94,1277.62ZM1641.78,1379.49 1675.86,1379.49 1675.86,1396.47 1726.98,1396.47 1726.98,1379.49 1744.02,1379.49 1744.02,1345.53 1761.06,1345.53 1761.06,1294.6 1709.94,1294.6 1709.94,1311.58 1675.86,1311.58 1675.86,1328.55 1658.82,1328.55 1658.82,1345.53 1641.78,1345.53ZM1726.98,1515.31 1744.02,1515.31 1744.02,1498.33 1863.3,1498.33 1863.3,1481.36 1829.22,1481.36 1829.22,1447.4 1778.1,1447.4 1778.1,1430.42 1761.06,1430.42 1761.06,1447.4 1744.02,1447.4 1744.02,1481.36 1726.98,1481.36ZM1965.54,700.37 1948.5,700.37 1948.5,717.35 1965.54,717.35ZM2255.22,1192.73 2255.22,1209.71 2272.26,1209.71 2272.26,1192.73Z"/>
<path shape-rendering="crispEdges" fill="#e1edf3" d="M227.46,717.35 244.5,717.35 244.5,666.41 210.42,666.41 210.42,683.39 227.46,683.39ZM244.5,734.32 261.54,734.32 261.54,717.35 244.5,717.35ZM636.42,853.17 653.46,853.17 653.46,870.15 687.54,870.15 687.54,853.17 704.58,853.17 704.58,785.26 670.5,785.26 670.5,819.21 653.46,819.21 653.46,836.19 636.42,836.19ZM619.38,853.17 619.38,870.15 636.42,870.15 636.42,853.17ZM585.3,904.1 568.26,904.1 568.26,921.08 585.3,921.08 585.3,955.04 619.38,955.04 619.38,870.15 602.34,870.15 602.34,887.13 585.3,887.13ZM227.46,972.02 244.5,972.02 244.5,955.04 261.54,955.04 261.54,938.06 244.5,938.06 244.5,921.08 227.46,921.08ZM619.38,1277.62 636.42,1277.62 636.42,1294.6 670.5,1294.6 670.5,1311.58 704.58,1311.58 704.58,1294.6 738.66,1294.6 738.66,1277.62 755.7,1277.62 755.7,1260.64 721.62,1260.64 721.62,1243.66 755.7,1243.66 755.7,1226.69 721.62,1226.69 721.62,1209.71 653.46,1209.71 653.46,1226.69 619.38,1226.69ZM670.5,751.3 704.58,751.3 704.58,717.35 721.62,717.35 721.62,683.39 704.58,683.39 704.58,666.41 670.5,666.41ZM738.66,921.08 738.66,938.06 721.62,938.06 721.62,955.04 738.66,955.04 738.66,988.99 772.74,988.99 772.74,955.04 755.7,955.04 755.7,938.06 772.74,938.06 772.74,921.08ZM806.82,1005.97 806.82,1022.95 823.86,1022.95 823.86,1005.97Z"/>
<path fill="none" stroke="#000" stroke-width="4.2" stroke-linejoin="round" stroke-linecap="round" d="M2599.1,407.9 2602.4,412.9 2595.8,422.9 2585.8,429.6 2572.5,436.2 2564.1,446.2 2554.2,452.9 2545.8,449.5 2535.9,452.9 2534.2,466.2 2532.5,479.5 2525.9,489.5 2512.6,496.1 2500.9,507.8 2492.6,519.4 2489.3,536.1 2485.9,556 2480.9,564.3 2480.9,579.3 2487.6,584.3 2494.3,589.3 2485.9,602.6 2484.3,610.9 2484.3,611 2499.3,615 2509.2,623.3 2519.2,631.6 2532.5,633.3 2540.9,626.6 2539.2,618.3 2527.5,613.3 2524.2,616.7 2534.2,621.6 2536.5,628.3 2531.9,630.6 2542.5,635 2529.2,640.6 2519.2,644.9 2512.6,649.9 2504.2,656.6 2495.9,661.6 2485.9,664.9 2482.6,666.6 2480.9,673.2 2472.6,681.6M2471,697.2 2456,706.5 2444.3,714.8 2429.4,724.8 2412.7,736.5 2397.8,744.8 2386.1,751.4M2374.5,761.4 2386.1,759.8 2389.4,769.7 2391.1,789.7 2392.8,803 2389.4,814.7 2382.8,823 2381.1,833 2376.1,843 2371.1,856.3 2367.8,861.3M2364.5,872.9 2369.5,886.2 2371.1,896.2 2367.8,909.5 2362.8,929.5 2357.8,949.4 2352.8,956.1 2351.2,967.8 2349.5,977.7M2347.8,994.4 2354.5,1004.4 2361.1,1017.7 2369.5,1031 2379.4,1046 2389.4,1055.9 2394.4,1069.3 2396.8,1085.9 2396.1,1086.6 2387.8,1093.3 2374.5,1101.6 2367.8,1114.9 2361.1,1128.2 2354.5,1138.2 2339.5,1135.9 2324.5,1139.9 2317.9,1148.2 2314.6,1151.5 2304.6,1163.2 2297.9,1173.1 2293.6,1186.5 2294.6,1197.1 2273,1201.4 2263,1206.4 2253,1216.4 2246.3,1226.4 2241.3,1238 2239,1246.4 2240.3,1256.3 2233,1264.7 2224.7,1269.7 2221.4,1278 2213.1,1284.6 2211.4,1291.3 2203.1,1297.9 2193.1,1304.6 2184.8,1307.9 2181.4,1314.6 2184.8,1319.6 2179.8,1322.9 2176.4,1329.6 2171.5,1336.2 2165.8,1342.9 2163.1,1349.5 2158.1,1352.9 2156.5,1362.8 2154.8,1372.8 2157.1,1379.5 2152.5,1387.8 2153.1,1392.8 2147.2,1399.4 2147.2,1412.8 2148.2,1427.7 2153.1,1436.1 2159.8,1452.7 2168.1,1474.3 2176.4,1489.3 2186.4,1505.9 2198.1,1524.2 2209.7,1539.2 2221.4,1551.9 2226.4,1556.9 2229.7,1583.2 2243,1604.8 2256.3,1623.1 2266.3,1639.7 2273,1653.1 2277.9,1669.7 2278.9,1686.3 2279.6,1706.3 2281.3,1717.9 2276.9,1727.9 2273,1739.6 2274.6,1751.2 2269.6,1758.9 2261.3,1762.9 2253,1766.9 2239.7,1772.9 2231.4,1772.2 2229,1764.5 2236.3,1761.2 2231.4,1759.5 2221.4,1746.2 2214.7,1738.9 2211.4,1732.3 2199.7,1730.3 2188.1,1724.6 2181.4,1713 2176.4,1699.6 2171.5,1696.3 2173.1,1683 2168.1,1693 2161.5,1701.3 2156.5,1698 2162.5,1693 2159.8,1683 2161.5,1668 2154.8,1669.7 2153.1,1676.3 2144.8,1673 2136.5,1661.4 2125.9,1648.1 2117.2,1639.7 2125.9,1626.4 2130.5,1614.8 2124.9,1613.1 2115.9,1609.8 2120.5,1614.8 2118.2,1626.4 2109.9,1626.4 2105.2,1618.1 2105.9,1606.5 2108.2,1593.1 2110.6,1578.2 2108.2,1563.2 2104.9,1551.6 2096.6,1541.6 2083.3,1533.2 2068.3,1521.6 2053.3,1510 2040,1496.6 2032.2,1492.6 2018.9,1488.3 2004,1495 2002.3,1501.6 1992.3,1510 1979,1519.9 1969,1526.6 1964,1521.6 1952.4,1523.3 1950.7,1514.9 1940.7,1506.6 1932.4,1496.6 1925.7,1493.3 1905.8,1488.3 1884.1,1485 1865.8,1486.7 1845.9,1491.6 1832.6,1496M1794.3,1497.3 1779.3,1498.3 1764.3,1500.6 1754.4,1498.3 1742.7,1502.6 1729.4,1506.6 1717.8,1513.3 1727.7,1526.6 1732.7,1533.2 1731.1,1539.9 1721.1,1544.9 1713.4,1551.6 1721.1,1559.9 1732.7,1565.9 1746,1568.2 1754.4,1577.2 1744.4,1587.2 1736.1,1589.8 1732.7,1579.8 1722.7,1573.2 1709.4,1569.2 1702.8,1562.5 1689.5,1559.9 1696.1,1569.9 1694.5,1579.8 1687.8,1586.5 1681.1,1576.5 1672.8,1574.8 1664.5,1578.2 1657.8,1586.5 1639.5,1581.5 1626.2,1577.2 1636.2,1574.8 1631.2,1569.9 1628.9,1561.5 1622.9,1565.9 1612.9,1561.5 1604.6,1550.6 1596.3,1550.6 1593,1545.9 1586.3,1548.2 1579.6,1554.9 1583,1559.9 1573,1563.2 1559.7,1562.5 1544.7,1559.9 1533.1,1554.9 1519.7,1550.6 1506.4,1551.6 1493.1,1552.5 1484.8,1557.2 1473.1,1559.2 1459.8,1564.9 1446.5,1571.5 1436.5,1578.2 1426.6,1586.5 1416.6,1594.8 1406.6,1604.8 1390,1616.4 1373.3,1626.4 1360,1633.1 1355.6,1633.1 1332.3,1648.1 1312.3,1663 1299,1683 1290.7,1701.3 1289,1713 1290.7,1732.9 1295.7,1756.2 1299.7,1779.5 1300.7,1791.2M269.6,1228.1 268.9,1229.7 271.2,1221.4 266.2,1218.1 267.9,1211.4 270.2,1203.1 268.9,1189.8 264.6,1176.5 257.9,1164.8 249.6,1154.8 242.9,1144.9 236.3,1139.2 231.3,1141.5 224.6,1138.2 229,1131.6 226.3,1121.6 219.6,1118.2 209.7,1114.9 199.7,1108.3 192.4,1101.6 193,1094.9 186.4,1087.3 178,1080 166.4,1076.6 153.1,1068.3 139.8,1064 133.1,1060 136.4,1062.6 131.5,1054.3 134.8,1046 137.1,1034.3 141.4,1026 139.8,1021 132.5,1014.3 136.4,1002.7 133.1,997.7 128.1,989.4 121.5,979.4 119.8,971.1 114.8,956.1 111.5,942.8 105.8,931.1 108.2,917.8 116.5,911.2 120.5,904.5 118.1,896.2 109.8,892.9 103.2,886.2 99.2,872.9 101.5,856.3 106.5,843 111.5,839.6 106.5,831.3 96.5,818 88.2,816.3 96.5,809.7 93.2,801.4 91.5,789.7 84.9,779.7 79.9,766.4 74.9,753.1 79.2,739.8 79.9,726.5 84.9,716.5 88.2,706.5 87.2,693.2 81.5,678.2 75.9,664.9 79.9,649.9 88.2,641.6 96.5,633.3 103.2,623.3 109.8,610 113.1,600.9 114.8,589.3 113.1,581 116.5,577.7 119.8,569.3 117.1,567.7 115.8,559.4 117.1,547.7 120.5,539.4 123.8,529.4 122.5,519.4 124.8,514.4 133.1,502.8 141.4,492.8 146.4,487.8 156.4,474.5 163.1,464.5 169.7,449.5 175.7,434.6 183,419.6 191.4,402.9 199.7,386.3 208,369.7 213,353 218,336.4 214.7,326.4 219.6,323.1 226.3,313.1 229.6,303.1 227,293.1 238.9,290.5 226.3,286.5 228,284.8 229.6,273.1 231.3,259.8 233,246.5 233,236.5 228,226.6 229.6,214.9 233,203.3 236.3,196.6 236.3,191.6M2614.9,165.9 2614.9,179.3 2612.8,186.6 2604.5,197 2598.3,202.2 2587.9,203.2 2573.4,202.2 2569.2,208.4 2558.8,214.6 2550.5,217.7 2544.3,226 2548.5,222.9 2556.8,218.8 2569.2,217.7 2581.7,218.8 2587.9,221.9 2594.1,228.1 2599.3,226 2604.5,216.7 2614.9,209.4 2625.2,208.4 2630.4,203.2 2631.5,190.7 2634.6,201.1 2633.5,208.4 2628.3,211.5 2627.7,221.9 2629.4,232.2 2625.2,244.7 2619.4,255.1 2625.2,256.1 2633.5,249.9 2639.8,249.9 2643.9,260.2 2652.2,269.6 2660.5,282 2664.6,289.3 2670.9,292.4 2681.2,289.3 2689.5,286.2 2701,288.3 2693.7,296.6 2694.7,294.5 2704.1,297.6 2714.4,299.7 2724.8,295.5 2733.1,297.6 2743.5,292.4 2753.9,290.3 2755.9,294.5 2766.3,288.3 2772.5,280 2779.8,269.6 2785,275.8 2791.2,276.8 2799.5,271.7 2807.8,273.7 2816.1,275.8 2820.2,277.9 2836.8,277.9 2836.8,296.6 2820.2,296.6 2814,302.8 2803.7,313.2 2791.2,327.7 2778.8,342.2 2764.2,354.6 2753.9,362.9 2742.4,364 2747.6,367.1 2749.7,374.4 2739.3,377.5 2729,374.4 2722.7,379.5 2720.7,385.8 2725.9,396.1 2718.6,408.6 2714.4,421 2710.3,433.5 2705.1,442.8 2697.8,448 2698.9,456.3 2691.6,460.5 2683.3,462.5 2675,455.3 2666.7,457.3 2660.5,452.2 2654.3,441.8 2650.1,431.4 2649.1,419 2652.2,406.5 2656.3,398.2 2660.5,387.8 2666.7,377.5 2675,365 2683.3,354.6 2691.6,346.3 2699.9,342.2 2706.1,350.5 2714.4,354.6 2710.3,344.3 2714.4,336 2724.8,330.8 2737.3,324.6 2737.3,321.5 2722.7,324.6 2708.2,329.8 2695.8,338 2684.4,346.3 2675,348.4 2674,343.2 2679.2,342.2 2684.4,331.8 2687.5,319.4 2691.6,306.9 2689.5,308 2683.3,313.2 2679.2,315.2 2671.9,309 2677.1,319.4 2675,327.7 2666.7,338 2658.4,347.4 2652.2,356.7 2643.9,367.1 2637.7,372.3 2630.4,369.2 2628.3,361.9 2625.2,370.2 2629.4,374.4 2623.2,381.6 2616.9,383.7 2612.8,389.9 2604.5,394.1 2597.2,395.1 2592,393 2587.9,396.1M319.5,186.6 317.8,181.6 316.2,166.7M268.9,1229.7 268.9,1241.4 274.6,1253 275.6,1264.7 284.5,1276.3 282.9,1281.3 276.9,1282.3 281.2,1283.6 276.9,1293 282.9,1306.3 288.9,1319.6 286.9,1332.9 296.2,1346.9 292.9,1369.5 301.2,1379.5 299.5,1392.8 296.2,1401.1 299.5,1404.4 300.5,1416.1 311.2,1429.4 321.1,1442.7 332.8,1449.4 346.1,1480 356.1,1496.6 366.1,1508.3 368.4,1519.3 361.1,1533.2 352.8,1543.2 347.8,1546.6 336.1,1551.6 327.8,1550.6 316.2,1545.9 304.5,1541.6 303.5,1546.6 307.8,1553.2 316.2,1563.2 324.5,1573.2 327.8,1578.2 326.1,1586.5 332.8,1593.1 342.8,1598.1 349.4,1608.1 357.8,1611.5 362.7,1621.4 367.7,1631.4 377.7,1628.1 387.7,1630.4 396,1621.4 392.7,1631.4 394.4,1641.4 399.4,1649.7 407.7,1659.7 414.3,1668 422.6,1673 431,1678 436,1693 438.6,1706.3 436.6,1719.6 438.6,1726.3 434.3,1737.9 429.3,1749.6 426,1761.2 429.3,1769.5 436,1776.2 440.9,1782.8 440,1787.8 447.6,1789.5 452.6,1797.8 462.6,1809.5 479.2,1826.1 492.5,1846.1 497.5,1854.4 512.5,1866 517.5,1877.7 520.8,1884.3 521.8,1899.3 525.8,1914.3 532.5,1916 544.1,1911 552.4,1906 562.4,1901 567.4,1884.3 562.4,1874.4 552.4,1869.4 552.4,1859.4 547.4,1847.7 539.1,1836.1 532.5,1826.1 525.8,1818.8 522.5,1822.8 520.8,1832.1 516.5,1833.8 514.2,1827.8 507.5,1824.4 504.2,1816.1 501.9,1799.5 505.2,1789.5 509.2,1784.5 507.5,1772.9 499.2,1757.9 495.9,1736.2 489.2,1731.3 484.2,1716.3 484.2,1706.3 487.5,1696.3 484.2,1669.7 480.9,1656.4 472.6,1644.7 465.9,1643.1 464.2,1648.1 459.3,1633.1 460.9,1626.4 452.6,1618.1 449.3,1606.5 449.3,1596.5 440.9,1586.5 432,1573.2 431,1564.9 432.6,1559.9 429.3,1543.2 432,1533.2 422.6,1528.3 420,1518.3 418.7,1508.3 412.7,1503.3 411,1496.6 404.3,1495 404.3,1494.3 404.3,1486 401,1474.3 394.4,1459.4 386,1447.7 379.4,1436.1 369.4,1426.1 364.4,1417.8 361.1,1406.1 362.7,1396.1 366.1,1379.5 366.1,1356.2 362.7,1342.9 366.1,1332.9 371.1,1319.6 377.7,1306.3 372.1,1296.3 386,1307.9 396,1319.6 406,1328.9 414.3,1329.6 419.3,1324.6 431,1334.6 432.6,1344.5 442.6,1351.2 454.3,1356.2 460.9,1362.8 458.6,1369.5 454.3,1371.2 450.9,1386.1 454.3,1399.4 458.6,1416.1 460.9,1427.7 460.3,1441 464.2,1454.4 470.9,1472.7 470.9,1482.6 477.6,1487.6 479.2,1488.3 477.6,1503.3 487.5,1519.9 490.9,1529.9 497.5,1543.2 507.5,1551.6 514.2,1568.2 522.5,1581.5 532.5,1588.2 540.8,1588.2 554.1,1594.8 547.4,1604.8 545.8,1616.4 549.1,1629.8 559.1,1641.4 577.4,1650.4 577.4,1661.4 582.4,1674.7 599,1678 609,1691.3 609.7,1703 615,1709.6 609,1706.3 599,1714.6 594,1721.3 593,1739.6 599,1749.6 609,1751.2 622.3,1745.6 612.3,1756.2 625.6,1759.5 626.3,1766.2 637.3,1776.2 648.9,1786.2 663.9,1794.5 650.6,1797.8 662.3,1812.8 662.3,1824.4 672.2,1832.8 688.9,1837.8 687.2,1846.1 675.6,1837.8 698.9,1859.4 712.2,1872.7 722.2,1891 735.5,1912.6 742.1,1929.3 752.1,1940.9 762.1,1959.2 1260.7,1959.2 1260.7,1940.9 1262.4,1925.9 1265.7,1906 1270.7,1882.7 1275.7,1862.7 1282.4,1842.7 1290.7,1826.1 1299,1807.8 1300.7,1791.2M234,175.6 234,179.4 255.6,198.1 269.7,209.4 278.1,215 283.7,212.2 289.3,213.6 292.2,211.2 291.2,198.1 287.5,179.4 287.5,175.6 234,175.6M2663.6,264.4 2666.7,248.8 2671.9,236.4 2676.1,242.6 2677.1,253 2684.4,259.2 2691.6,265.4 2695.8,259.2 2706.1,258.2 2716.5,257.1 2726.9,253 2737.3,246.8 2749.7,240.5 2760.1,238.5 2764.2,241.6 2757,253 2749.7,261.3 2751.8,269.6 2755.9,272.7 2745.6,276.8 2735.2,277.9 2732.1,271.7 2729,263.4 2722.7,271.7 2714.4,275.8 2704.1,274.8 2697.8,269.6 2689.5,271.7 2683.3,269.6 2679.2,263.4 2670.9,265.4 2663.6,264.4M2807.8,165.9 2807.8,179.3 2803.7,186.6 2798.5,201.1 2796.4,221.9 2795.4,242.6 2798.5,257.1 2807.8,267.5 2816.1,271.7 2820.2,269.6 2836.8,269.6 2836.8,165.9 2807.8,165.9M2116.5,1952.6 2116.5,1940.9 2133.2,1930.9 2163.1,1922.6 2183.1,1912.6 2199.7,1906 2229.7,1905.3 2246.3,1901 2253,1906 2269.6,1900 2284.6,1896.7 2292.9,1902.6 2302.9,1904.3 2316.2,1901 2329.5,1904.3 2336.2,1902.6 2352.8,1912.6 2369.5,1922.6 2379.4,1925.9 2399.4,1920.9 2409.4,1921.9 2426,1925.9 2442.7,1930.9 2459.3,1937.6 2469.3,1940.9 2469.3,1952.6 2116.5,1952.6M2742.4,182.4 2749.7,181.4 2753.9,189.7 2749.7,194.9 2743.5,195.9 2744.5,188.7 2742.4,182.4M2611.7,407.6 2615.9,406.5 2617.3,414.8 2612.8,421 2609.7,415.9 2611.7,407.6M2643.9,422.1 2646,421 2644.9,433.5 2642.9,432.4 2643.9,422.1M2812,244.7 2820.2,238.5 2820.2,261.3 2814,257.1 2812,244.7M2510.9,663.2 2519.2,657.3 2524.2,659.9 2515.9,666.6 2510.9,663.2M2537.5,660.6 2547.5,652.6 2550.8,659.9 2537.5,660.6M131.5,1088.3 141.4,1093.3 151.4,1098.3 146.4,1103.3 139.8,1099.3 131.5,1088.3M156.4,1096.6 173.1,1101.6 174.7,1104.9 159.7,1101.6 156.4,1096.6M159.7,1147.2 165.7,1149.9 163.1,1154.8 158.4,1151.5 159.7,1147.2M213,1150.5 223,1158.2 224.6,1165.8 216.3,1161.5 213,1150.5M203.7,1177.1 208,1178.1 213,1193.1 207,1192.5 203.7,1177.1M144.8,1411.1 150.4,1411.1 152.1,1421.1 148.8,1430.1 145.8,1421.1 144.8,1411.1M297.8,1507.6 303.5,1507.6 303.5,1522.6 299.5,1529.2 291.2,1521.9 297.8,1507.6M406.7,1456 412,1454.4 417.7,1462.7 419.3,1471 426,1476 424.3,1492.6 417.7,1484.3 411,1472.7 406.7,1462.7 406.7,1456M463.2,1491 476.6,1490 474.2,1507.6 467.6,1520.9 455.3,1510.9 463.2,1491M464.2,1646.4 469.2,1643.1 472.6,1663 465.9,1659.7 464.2,1646.4M489.2,1714.6 495.9,1701.3 500.9,1701.3 497.5,1709.6 489.2,1714.6M509.2,1769.5 514.2,1767.9 518.5,1781.2 514.2,1781.2 509.2,1769.5M547.4,1822.8 550.8,1824.4 552.4,1836.1 548.4,1836.1 547.4,1822.8M2334.5,1651.4 2351.2,1661.4 2364.5,1654.7 2379.4,1646.4 2395.4,1641.4 2394.4,1635.7 2376.1,1641.4 2364.5,1644.7 2356.2,1641.4 2352.8,1653.1 2344.5,1654.7 2334.5,1651.4M2389.4,1624.8 2397.8,1621.4 2412.7,1620.4 2426,1629.8 2432.7,1636.4 2444.3,1636.4 2449.3,1649.7 2444.3,1661.4 2446,1679.7 2432.7,1673 2439.4,1664.7 2437.7,1646.4 2429.4,1634.7 2416.1,1624.8 2401.1,1624.8 2389.4,1624.8M2398.8,1736.2 2406.1,1734.6 2414.4,1739.6 2416.1,1746.2 2426,1756.2 2434.4,1762.9 2436,1774.5 2427.7,1781.2 2422.7,1791.2 2412.7,1784.5 2401.1,1781.2 2393.4,1774.5 2401.1,1772.9 2399.4,1761.2 2403.4,1746.2 2398.8,1736.2M2424.4,1792.8 2441,1786.2 2451,1794.5 2457.7,1811.1 2456,1819.4 2444.3,1821.1 2439.4,1809.5 2431,1799.5 2424.4,1792.8M2437.7,1736.9 2449.3,1732.3 2455.3,1734.6 2444.3,1739.6 2437.7,1736.9M2477.6,1693 2485.9,1698 2502.6,1701.3 2519.2,1711.3 2520.9,1726.3 2522.5,1742.9 2512.6,1736.2 2517.6,1731.3 2516.6,1713 2500.9,1706.3 2484.3,1701.3 2476.6,1703 2477.6,1693M2547.5,1733.6 2552.5,1733.6 2565.8,1746.2 2580.8,1761.2 2570.8,1766.2 2575.8,1760.2 2562.5,1749.6 2549.2,1737.9 2547.5,1733.6M2587.4,1792.8 2605.7,1814.5 2610.7,1821.1 2602.4,1821.1 2617.4,1826.1 2629,1836.1 2625.7,1827.8 2610.7,1819.4 2592.4,1796.2 2587.4,1792.8M2660.7,1828.8 2672.3,1832.1 2684,1831.1 2688.9,1828.8 2693.9,1840.1 2685.6,1854.4 2672.3,1869.4 2680.6,1856.1 2688.9,1841.1 2682.3,1835.4 2665.6,1836.1 2660.7,1828.8M2547.5,1802.1 2559.2,1807.8 2572.5,1811.1 2559.2,1809.5 2547.5,1807.8 2547.5,1802.1M2627.4,1751.2 2632.4,1751.2 2631.7,1762.2 2627.4,1762.2 2627.4,1751.2M2735.5,1834.4 2748.8,1832.8 2761.5,1835.4 2748.8,1836.8 2735.5,1838.8 2735.5,1834.4M2793.8,1859.4 2805.4,1857.7 2797.1,1864.4 2793.8,1859.4M2812.1,1846.1 2821.4,1849.4 2820.4,1852.1 2812.1,1846.1M2757.2,1892.7 2762.2,1887.7 2766.2,1891 2760.5,1896 2757.2,1892.7M2728.9,1939.3 2727.2,1929.3 2735.5,1922.6 2748.8,1920 2758.8,1912.6 2763.8,1904.3 2765.5,1914.3 2762.2,1927.6 2745.5,1934.3 2735.5,1938.6 2728.9,1939.3M2346.2,1903.3 2367.8,1912 2366.1,1913.6 2345.5,1905.3 2346.2,1903.3M2406.1,1911 2426,1906 2439.4,1912 2456,1922.6 2476,1927.6 2477.6,1935.9 2462.6,1932.6 2446,1922.6 2429.4,1912.6 2412.7,1912.6 2406.1,1911M2279.6,1751.2 2281.3,1756.2 2274.6,1767.9 2263.6,1783.5 2262.3,1781.2 2272.3,1766.2 2279.6,1751.2M2253,1789.5 2258,1787.8 2257,1791.2 2253.7,1792.2 2253,1789.5M2236.3,1800.1 2248,1795.5 2249,1797.8 2238,1802.1 2236.3,1800.1M2219.7,1801.1 2224.7,1807.8 2222.4,1808.8 2219,1803.5 2219.7,1801.1M2209.7,1807.8 2213.1,1812.8 2209.1,1813.5 2209.7,1807.8M2198.1,1817.8 2204.7,1814.5 2204.4,1817.1 2199.1,1819.4 2198.1,1817.8M235,197.2 238.7,198.1 246.2,200.9 251.9,207.5 255.6,214 261.2,218.7 269.7,222.5 278.1,226.2 285.6,230 291.2,231.9 294,235.6 297.8,238.9 302.5,239.4 306.2,237.5 305.3,245 306.2,252.5 302.5,256.2 295.9,258.1 289.3,262.8 281.8,267.5 276.2,273.1 274.3,276.8 277.2,279.2 284.7,277.8 280,275.9 283.7,272.2 291.2,267.5 298.7,262.8 305.3,260 309,254.3M314.6,222.5 310.9,228.1 309,235.6 311.8,243.1 310.9,250.6 314.6,254.3 310,260 307.2,267.5 304.3,273.1 298.7,277.8 297.8,284.3 293.1,288.1 289.3,291.8 286.5,298.4 282.8,297.5 278.1,294.6 274.3,291.8 280,287.2 285.6,285.3 291.2,287.2 295.9,290.9 302.5,290.9 307.2,285.3 308.1,277.8 310.9,271.2 312.8,264.7 316.5,259 322.1,254.3 324,250.6 321.2,244 322.1,235.6 321.2,228.1 319.3,223.4 325,220.6 326.8,211.2 326.4,203.7 322.1,200.9 321.2,193.4 320.3,186.9 318.4,182.2 315.6,180.3M314.6,226.2 318.4,230 320.3,235.6 318.4,241.2 320.3,247.8 317.5,252.5 313.7,250.6 315.6,244 313.7,237.5 315.6,231.9 314.6,226.2M300.6,264.7 305.3,265.6 306.2,271.2 302.5,275.9 298.7,273.1 300.6,264.7M216.3,331.4 233,333.1 239.6,341.4 251.3,344.7M111.5,839.6 114.8,821.3 119.8,819 126.5,826.3 136.4,826.3 146.4,833 156.4,838 146.4,833.6 134.8,828 121.5,828 114.8,831.3 116.5,843 118.1,856.3 120.5,862.9 114.8,857.9 108.2,844.6M2394.4,353 2372.8,369.7 2359.5,382.3 2346.2,397.9 2334.5,412.9 2328.9,432.9 2322.9,451.2 2313.6,459.5 2306.2,476.2 2294.6,489.5 2282.9,501.1M2402.7,344.7 2382.8,364.7 2364.5,379.6 2351.2,394.6 2339.5,409.6 2332.9,426.2 2326.9,446.2 2322.9,461.2 2302.9,465.5 2286.3,464.5M2427.7,254.8 2406.1,257.2 2372.8,256.5M2427.7,258.2 2406.1,259.8 2374.5,257.5M2461,180 2452.7,193.3 2444.3,213.2 2437.7,236.5 2429.4,254.8 2427.7,276.5 2419.4,299.8 2411.1,323.1 2402.7,341.4 2394.4,353M2507.6,180 2485.9,196.6 2469.3,216.6 2456,233.2 2444.3,256.5 2436,281.5 2426,309.8 2417.7,331.4 2406.1,344.7 2394.4,354.7M1955.7,193.3 1964,185 1970.7,179.3M1994,179.3 2005.6,191.6 2017.3,202.6M2480.9,673.2 2469.3,679.9 2456,684.9 2439.4,691.5 2422.7,697.2 2409.4,704.8 2399.4,713.2 2389.4,721.5 2382.8,729.8 2380.1,721.5 2376.1,713.2 2381.1,723.1 2379.4,743.1 2372.8,753.1 2374.5,761.4M2382.8,749.8 2389.4,736.5 2402.7,726.5 2419.4,716.5 2436,709.8 2449.3,699.9 2452.7,697.2 2444.3,706.5 2459.3,701.5 2471,697.2M2367.8,861.3 2364.5,847.9 2354.5,846.3 2344.5,843 2332.9,836.3 2326.9,826.3 2327.9,816.3 2332.9,809.7 2341.2,804.7 2347.8,796.4 2356.2,789.7M2326.9,826.3 2331.2,839.6 2339.5,852.9 2347.8,862.9 2357.8,869.6 2364.5,872.9M2306.2,836.3 2302.9,849.6 2306.2,862.9 2304.6,876.2 2311.2,887.9 2322.9,892.9 2312.9,896.9 2316.2,906.2 2326.9,912.2 2332.9,907.8 2336.9,917.8 2341.2,928.8 2349.5,924.5 2346.2,939.5 2342.8,956.1 2343.5,971.1 2346.8,979.4 2350.2,967.8M2312.9,838 2302.9,843 2296.2,851.3 2287.9,861.3 2293.6,872.9 2291.3,886.2 2296.9,898.9 2306.2,913.5 2313.6,927.8 2297.9,922.8 2284.6,916.8 2276.9,919.5 2269.6,921.2 2263.6,914.5 2266.3,900.2 2273,890.2 2270.3,883.6M2276.9,932.1 2292.9,941.1 2309.6,951.1 2321.2,952.8 2321.2,941.1 2322.9,956.1 2329.5,967.8 2319.5,966.1 2309.6,972.7 2302.9,967.8 2316.2,977.7 2329.5,982.7 2332.2,989.4 2326.2,992.7 2312.9,986.1 2299.6,982.7 2282.9,983.4 2299.6,986.1 2312.9,992.7 2324.5,999.4 2336.2,994.4 2347.8,994.4M2321.2,1042.6 2326.2,1057.6 2339.5,1054.3 2352.8,1047.6 2347.8,1039.3 2356.2,1034.3 2367.8,1039.3 2376.1,1049.3 2364.5,1054.3 2361.1,1065.9 2369.5,1057.6 2374.5,1052.6 2377.8,1067.6 2371.1,1079.2 2362.8,1089.2 2349.5,1090.9 2341.2,1084.2 2337.8,1092.5 2326.2,1090.9 2316.2,1089.2 2339.5,1094.2 2346.2,1106.9M2316.2,1089.3 2329.5,1093.3 2341.2,1091.6 2339.5,1085 2344.5,1088.3 2362.8,1090 2372.8,1076.6 2377.8,1066.7 2376.1,1060M2345.5,1096.6 2343.5,1109.9 2339.5,1114.9 2329.5,1114.9 2321.2,1111.6 2329.5,1119.9 2339.5,1121.6 2354.5,1116.6 2364.5,1119.9 2367.8,1114.9M1794.3,1498.6 1797.6,1481 1800.9,1477.7 1805.9,1484.3 1807.6,1496 1815.9,1499.3 1832.6,1496M1842.5,1489.3 1849.2,1480 1855.9,1481 1852.5,1489.3M1672.8,1521.6 1681.1,1506.6 1692.8,1506 1704.4,1513.3 1714.4,1514.9 1702.8,1522.6 1687.8,1528.3 1677.8,1524.9 1672.8,1521.6M1712.8,1521.6 1706.1,1526.6 1709.4,1533.2 1719.4,1531.6 1727.7,1526.6M1588,1559.2 1594.6,1557.2 1601.3,1562.5 1596.9,1568.2 1589,1563.2 1588,1559.2M1757.7,1520.6 1762,1531.6 1756,1546.6M1764.3,1508.3 1774.3,1510.6M1787.6,1506 1799.3,1504M1805.9,1503.3 1815.9,1501.6M1426.6,1586.5 1431.6,1578.2 1424.9,1569.9 1421.6,1559.2 1431.6,1555.9 1438.2,1557.2 1435.9,1567.2 1448.2,1568.2 1439.2,1576.5M1367.2,1625.8 1343.9,1623.8 1333.9,1619.8 1332.3,1624.8 1340.6,1636.4 1345.6,1641.4 1325.6,1639.1 1320.6,1649.7 1315.6,1653.1 1302.3,1654.7 1307.3,1661.4 1300.7,1671.4 1289,1674.7 1295.7,1686.3 1307.3,1676.3M1287.3,1714.6 1267.4,1698 1272.4,1709.6 1284,1709.6 1279,1727.9 1282.4,1746.2 1285.7,1762.9 1294,1779.5 1299,1789.5M2206.4,1543.2 2213.1,1556.5 2226.4,1558.2 2221.4,1566.5 2226.4,1579.8 2239.7,1596.5 2253,1616.4 2263,1633.1M2208.1,1546.6 2216.4,1563.2 2228,1583.2 2241.3,1601.5M2153.1,1676.3 2154.8,1669.7 2161.5,1668 2159.8,1683 2162.5,1693 2156.5,1698 2161.5,1701.3 2168.1,1693 2173.1,1683M414.3,1767.9 429.3,1737.9 422.6,1759.5 420,1772.9 423.3,1786.2 432.6,1789.5 444.3,1802.8 436,1787.8 424.3,1782.8M347.8,1548.2 344.4,1554.9 349.4,1563.2 356.1,1565.9 352.8,1558.2 354.4,1549.9M88.2,816.3 96.5,818M276.9,1282.3 282.9,1281.3"/>
<path fill="#000" stroke="#000" stroke-width="3" stroke-linejoin="round" d="M295.9,210.3 300.6,204.7 307.2,202.8 313.7,202.8 316.5,207.5 314.6,211.2 310.9,214 311.8,218.7 309,222.5 304.3,220.6 300.6,215 296.8,213.1ZM283.7,179.4 284.7,193.4 285.6,202.8 289.3,205.6 292.2,198.1 294,188.7 297.8,186.9 298.7,182.2 295.9,179.4ZM309,180.3 315.6,180.3 316.5,185.9 312.8,187.8 309.5,185Z"/>
<path fill="none" stroke="#000" stroke-width="4.4" stroke-dasharray="5 6" d="M216.3,331.4 233,333.1 239.6,341.4 251.3,344.7 256.9,353 257.9,366.3 256.2,381.3 266.2,388 279.5,394 292.9,390.6 306.2,393 314.5,397.9 319.5,404.6 332.8,406.9 352.8,409.6 372.7,407.9 392.7,408.9 404.3,411.9 414.3,410.3 432.6,415.6 465.9,425.2 498.2,434.6M540.8,258.8 532.5,293.1 522.5,326.4 512.5,366.3 502.5,399.6 498.5,412.9 500.2,426.2 498.2,434.6 502.5,444.5 510.2,454.5 509.2,462.8 499.2,476.2 489.2,487.8 479.2,502.8 465.9,515.4 460.3,524.4 462.6,532.7 469.2,541 460.9,559.4 452.6,586 444.3,615.9 436,645.9 432.6,656.9M580.7,268.2 575.7,286.5 570.7,306.4 564.7,328.1 570.7,346.4 571.7,359.7 574.1,369.7 581.7,378 588.4,393 595.7,407.9 599,416.2 614,424.6 610.7,436.2 604,446.2 602.4,459.5 595.7,469.5 590.7,481.1 595.7,491.1 605.7,489.5 614,482.8 620.7,492.8 621.7,509.4 625.6,526.1 628.3,542.7 637.3,552.7 642.3,571 652.3,566.7 660.6,571 668.9,567.7 682.2,572 702.2,574.3 707.2,566 715.5,567.7 720.5,578.7M720.5,578.7 727.2,554.4 735.5,553.7 765.4,558.4 798.7,564.3 820,567.7M720.5,578.7 715.5,609.3 712.2,632.6 708.8,656.9M118.1,568.7 159.7,583.3 199.7,597.6 249.6,614.3 296.2,629.9 332.8,640.9 366.1,650.9 387.7,656.9M634,181.6 644,185 648.9,199.9 648.9,221.6 645.6,236.5 639,247.2 644,251.5 645.6,263.2 653.9,274.8 657.3,286.5M1053.4,357.3 1046.1,426.2 1041.1,479.5 1036.1,529.4 1034.4,539.4 1028.8,596 1026.1,625.9 1021.1,656.9M1034.4,539.4 1112.6,547.7 1199.2,554.4 1279,557.7 1348.9,559.4M728.3,553.7 819.8,567.7 913,581 1027.8,597.6M680,571.7 703.3,576 706.6,566.7 714.9,567.7 719.9,578.7 728.3,553.7M719.9,578.7 708.3,656.9M1327.3,374.7 1328.9,393 1329.6,419.6 1333.9,439.5 1338.9,459.5 1340.6,492.8 1342.3,522.7 1348.9,539.4 1350.6,559.4 1345.6,571 1337.3,577.7 1342.3,589.3 1353.9,597.6 1354.6,625.9 1353.9,656.9M843.1,179.3 818.1,322.4M1163.2,179.3 1159.2,365.7M1408.8,179.3 1408.8,349.7M229.6,610 296.2,630 427.6,669.2 559.1,704.8 690.5,730.5M296.2,630 244.6,806.3 429.3,1106.9M559.1,704.8 490.9,999.4 480.9,1042.6 475.9,1052.6 467.6,1055.9 459.3,1046 447.6,1044.3 441.9,1052.6 442.6,1075.9 439.3,1092.5 436,1106.9M445.9,610 427.6,669.2M718.8,610 690.5,730.5 682.2,791.4 772.1,809.7 820,816.3M772.1,809.7 747.1,976.1 732.1,1046 722.2,1106.9M490.9,999.4 599,1027.7 732.1,1048.6 820,1060.9M680,791.4 771.5,809 913,829.6 1001.1,839.6 1094.3,848.9 1074.4,1091.9M680,1041 729.9,1048.6 879.7,1070.9 1026.1,1087.6 1074.4,1091.9 1212.5,1100.9 1345.6,1105.2 1438.8,1105.9M1027.8,610 1016.1,718.2 1001.1,839.6M1016.1,718.2 1145.9,729.8 1262.4,736.5 1275.7,744.8 1285.7,748.1 1295.7,744.8 1312.3,745.8 1328.9,754.8 1345.6,766.4 1352.2,769.7M1089.3,909.5 1245.7,918.8 1402.2,922.2M1026.1,1087.6 1024.4,1106.9M1354.6,610 1353.9,706.5M1348.9,708.2 1500,706.5M1348.9,708.2 1347.2,719.8 1353.9,731.5 1345.6,749.8 1343.9,761.4 1352.2,769.7 1357.2,786.4 1365.6,799.7 1370.5,826.3 1377.2,839.6 1380.5,872.9 1378.9,879.6 1387.2,892.9 1390.5,902.9 1397.2,909.5 1400.5,921.2 1410.5,927.8 1423.8,932.1 1415.5,944.5 1417.1,952.8 1427.1,967.8 1438.1,974.4 1438.8,1105.9M1382.2,885.6 1500,882.9M1360,708.8 1581.3,704.2M1511.4,610 1513.1,625 1518.1,635 1533.1,643.3 1546.4,651.6 1556.3,663.2 1569.7,669.9 1579.6,676.6 1583,693.2 1586.3,709.8 1589.6,716.5 1589,733.1 1593,744.8 1606.3,751.4 1612.9,758.1 1616.2,763.1 1626.2,773.1 1636.2,783.1 1638.9,791.4 1634.6,809.7 1626.2,819.7 1604.6,828 1598.9,836.3 1602.3,846.3 1606.3,854.6 1599.6,869.6 1589.6,882.9 1583.6,892.9 1582.3,906.2 1584.6,919.5 1589.6,931.1 1601.3,942.8 1616.2,956.1 1622.9,967.8 1627.9,977.7 1639.5,978.7 1652.2,982.7 1647.9,999.4 1642.9,1017.7 1649.5,1027.7 1666.2,1037.6 1681.1,1047.6 1687.8,1057.6 1691.1,1070.9 1687.8,1082.6 1696.1,1090.9 1706.1,1089.2 1709.4,1099.2 1709.4,1106.9M1616.2,762.1 1742.7,753.1M1380,885.6 1568,878.9 1576.3,886.2 1583.6,892.9M1757.7,798 1764.3,843 1769.3,892.9 1772.7,929.5 1771,942.8 1768.7,956.1 1776,969.4 1776.7,979.4 1771,996 1759.4,1012.7 1756.7,1026 1759.4,1039.3M1709.4,1082.6 1721.1,1080.9 1736.1,1084.2 1739.4,1072.6 1751,1060.9 1756,1042.6 1759.4,1039.3 1764.3,1032.6 1774.3,1034.3 1784.3,1027.7 1797.6,1032.6 1805.9,1026 1812.6,1022.7 1825.9,1026 1832.6,1011 1839.2,1007.7 1845.9,1016 1855.9,1016.7 1859.2,1006 1865.8,996 1874.2,982.7 1879.2,969.4 1889.1,969.4 1905.8,959.4 1900.8,941.1 1909.1,942.8 1922.4,941.1 1932.4,952.8 1945.7,957.8 1959,961.1 1969,957.8 1979,961.1 1995.6,952.8 2005.6,961.1 2015.6,967.8 2025.6,966.1 2032.2,942.8 2040.6,929.5 2050.5,909.5 2062.2,899.5 2080.5,886.2 2083.8,862.9 2087.2,833 2082.2,823M2015.6,967.8 2013.9,982.7 2025.6,996 2038.9,1011 2052.2,1017.7 2060.5,1029.3 2072.2,1034.3 2087.2,1024.3 2102.1,1024.3 2118.8,1011 2132.1,1007.7 2134.7,992.7 2142.1,976.1 2150.4,952.8 2153.7,932.8 2165.4,937.8 2175.3,932.8 2180,912.8M2052.2,1017.7 2045.6,1026 2025.6,1046 2008.9,1065.9 1992.3,1082.6 1980.7,1086.6M1759.4,1106.9 1859.2,1097.5 1980.7,1086.6 2075.5,1070.9 2180,1054.3M2075.5,1070.9 2068.8,1089.2 2055.5,1106.9M1882.5,781.4 1892.5,862.9 1902.5,941.1M1792.6,792.4 1882.5,781.4 1945.7,773.1M2072.2,738.1 2098.8,872.9 2180,856.3M2147.1,864.6 2152,891.2 2165.4,881.2 2180,869.6M2106.6,727.1 2139.8,719.8 2206.4,706.5 2273,691.5 2297.9,686.5 2306.2,688.2 2316.2,696.5 2322.9,708.2 2336.2,714.8 2377.8,726.5M2336.2,714.8 2331.2,731.5 2326.2,743.1 2329.5,756.4 2327.9,764.7 2339.5,774.7 2356.2,789 2347.8,797 2341.2,804.7 2332.9,809.7M2377.8,726.5 2392.8,706.5 2387.8,686.5 2382.8,659.9 2380.1,616.7 2379.4,610M2382.8,659.9 2452.7,640 2476,634 2480.9,643.3 2482.6,653.3M2454.3,640.6 2467.6,674.9M2098.2,872.9 2199.7,851.3 2316.2,823 2326.2,814.7M2317.9,826.3 2337.8,899.5 2364.5,892.9M2146.5,863.6 2151.5,891.2 2164.8,880.2 2179.8,866.9 2196.4,862.9 2206.4,854.6 2221.4,854.6 2231.4,866.2 2239.7,872.9 2256.3,881.2 2269.6,886.2 2276.3,887.9M2203.1,867.9 2199.7,889.5 2186.4,906.2 2178.1,914.5 2174.8,929.5 2168.1,939.5 2153.1,932.8 2148.2,949.4 2141.5,969.4 2133.2,986.1 2134.8,999.4 2129.9,1007.7 2109.9,1016 2099.9,1024.3 2086.6,1026 2074.9,1033.3 2060,1030 2050,1017.7 2040,1012.7M2203.1,867.9 2229.7,881.2 2231.4,866.2M2040,1075.9 2076.6,1070.9 2206.4,1046 2352.8,1016M2076.6,1070.9 2070,1089.2 2056.6,1106.9M2414.4,462.8 2431,452.9 2436,479.5 2444.3,499.4 2454.3,519.4 2462.6,539.4 2469.3,551 2479.3,557.7M2414.4,462.8 2416.1,479.5 2421,489.5 2414.4,502.8 2406.1,509.4 2407.7,542.7 2404.4,559.4 2407.7,589.3 2411.1,604.3M2339.5,486.1 2346.2,512.8 2352.8,539.4 2359.5,566 2367.8,567.7 2372.8,586 2379.4,612.6 2381.1,656.9M2379.4,615.9 2411.1,605.9 2462.6,592.6 2472.6,582.6 2479.3,579.3M2544.3,226 2540.2,232.2 2521.5,242.6 2511.1,237.4 2500.7,241.6 2490.4,246.8 2484.1,250.9 2487.3,261.3 2490.4,271.7 2488.3,282 2480,289.3M2691.6,299.7 2689.5,308M2010.6,199.9 2017.3,243.2 2025.6,286.5 2035.6,333.1 2045.6,376.3 2050.5,399.6 2058.9,419.6 2075.5,439.5 2092.1,457.8 2112.1,461.2 2148.7,462.2 2165.4,472.8 2180,477.8M2163.1,472.8 2178.1,477.8 2181.4,472.8 2196.4,487.8 2209.7,489.5 2226.4,487.8 2246.3,476.2 2266.3,464.5 2279.6,462.8 2287.9,464.5 2287.9,481.1 2282.9,501.1M432.6,1109.9 434.3,1126.6 439.3,1149.9 447.6,1156.5 432.6,1168.2 424.3,1178.1 417.7,1196.4 404.3,1211.4 402.7,1224.7 411,1233.1 410,1243 402.7,1250.4 391,1250.4M444.3,1060 440.9,1086.6 432.6,1109.9M728.8,1065 672.2,1394.5M1026.1,1088.3 1022.8,1119.9 992.8,1396.1M1022.8,1119.9 1171.9,1129.9 1165.2,1248 1179.2,1259.7 1194.2,1261.3 1199.2,1258 1205.8,1263 1207.5,1273 1225.8,1278 1242.4,1281.3 1252.4,1279 1261.7,1279.6 1267.4,1289.6 1274,1296.3 1284,1289.6 1295.7,1296.9 1307.3,1298.9 1310.6,1306.3 1319,1294.6 1327.3,1297.9 1337.3,1296.9 1352.2,1307.9 1363.9,1299.6 1378.9,1297.9 1390.5,1294 1400.5,1297.9 1410.5,1294 1420.5,1297.9 1428.8,1305.6 1445.4,1311.3 1455.4,1315.6 1472,1316.2 1472.7,1351.2 1472.7,1412.8 1482,1426.1 1492,1446 1498.7,1466 1497,1492.6 1492,1519.3 1485.4,1539.2 1482,1556.9M1078.7,1060 1074.4,1092.6M1438.8,1105.9 1440.4,1136.5 1448.8,1203.1 1448.8,1307.9M1440.4,1136.5 1500,1133.9M803.8,1372.8 992.8,1396.1M1438.2,1136.5 1656.2,1127.6 1662.8,1131.6 1666.2,1139.9 1657.8,1151.5 1651.2,1159.2 1684.5,1157.2M1687.8,1060 1691.1,1075 1687.8,1083.3 1696.1,1091.6 1706.1,1090 1709.4,1099.9 1707.8,1113.2 1699.4,1121.6 1692.8,1124.9 1687.8,1138.2 1684.5,1156.5 1684.5,1166.5 1676.2,1174.8 1671.2,1191.5 1669.5,1204.8 1661.2,1216.4 1659.5,1224.7 1649.5,1236.4 1646.2,1253 1639.5,1259.7 1631.2,1273 1626.2,1283 1619.6,1297.9 1618.9,1309.6 1622.9,1322.9 1624.6,1336.2 1622.9,1346.2 1625.6,1361.2 1626.2,1376.2 1636.2,1386.1 1627.9,1401.1 1616.2,1417.8 1609.6,1436.1 1604.6,1456 1602.9,1471 1702.8,1466 1704.4,1477.7 1701.1,1489.3 1709.4,1500.9 1716.1,1512.6M1692.8,1124.9 1762.7,1119.2 1764.3,1109.3 1859.2,1099.9 1980.7,1086.6M2075.5,1071.6 2068.8,1090 2055.5,1103.3 2042.2,1114.9 2025.6,1123.2 2012.3,1138.2 1992.3,1149.9 1975.7,1154.8 1964,1166.5 1960.7,1184.8M1661.2,1219.7 1769.3,1211.4 1892.5,1197.1 1960.7,1188.1 2022.3,1179.8 2055.5,1161.5 2122.1,1153.2 2137.1,1158.2 2142.1,1169.8 2180,1164.8M1769.3,1211.4 1772.7,1293 1770,1392.8 1772.7,1431.1 1779.3,1489.3M1894.1,1197.1 1919.1,1293 1935.7,1326.2 1950.7,1352.9 1954,1361.2 1947.4,1372.8 1945.7,1389.5 1952.4,1406.1 1954,1426.1 1959,1439.4 1969,1456 2115.4,1444.4 2123.8,1454.4 2120.4,1436.1 2125.4,1427.7 2147.1,1426.1M1820.9,1454.4 1955.7,1441M1820.9,1454.4 1822.6,1467.7 1830.9,1476 1832.6,1489.3M2022.3,1179.8 2012.3,1193.1 2017.3,1203.1 2038.9,1211.4 2053.9,1231.4 2075.5,1246.4 2092.1,1259.7 2105.5,1274.7 2122.1,1286.3 2132.1,1302.9 2145.4,1316.2 2155.4,1336.2 2165.4,1341.2M1471.5,1351.2 1622.9,1345.5M1472.5,1316.2 1471.5,1351.2M2040,1169.8 2055,1160.5 2123.2,1153.8 2134.8,1159.8 2139.8,1169.8 2196.4,1162.5 2259.6,1203.1M1852.2,540 1864.4,529.9 1884.7,521.8 1905,529.9 1935.4,546.1 1951.6,558.3 1957.7,578.6 1965.8,600.9 1974,623.2 1982.1,643.5 1988.2,663.8 1978,684.1 1977,703M1821.8,521.8 1803.5,531.9 1783.2,542 1762.9,548.1 1748.7,560.3 1742.6,574.5 1736.5,578.6 1728.4,582.6 1734.5,592.8 1728.4,602.9 1720.3,621.2 1724.4,629.3M1618.8,521.8 1627,527.8 1657.4,533.9 1677.7,542 1702,544.1 1714.2,554.2 1722.3,562.3 1724.4,576.5M1560,505.5 1590.4,493.3 1608.7,487.3M1954,756.4 1969,766.4 1992.3,756.4 2022.3,736.5 2052.2,719.8 2085.5,699.9 2118.8,676.6 2135.4,668.2M2096.6,639.2 2139.8,624.9 2179.8,609.3 2213.1,589.3 2234.7,559.4M1978,684.9 1977.3,713.2 1972.3,726.5 1962.4,734.8 1955.7,741.5 1954,756.4M1541.4,509.4 1549.7,496.1 1559.7,484.5 1576.3,466.2 1593,449.5 1612.9,436.2 1629.6,426.2 1642.9,422.9 1652.9,414.6 1649.5,399.6 1661.2,389.6 1676.2,376.3 1684.5,361.3 1696.1,359.7 1706.1,366.3 1716.1,369.7 1726.1,368 1747.7,366.3 1761,368 1767.7,379.6 1776,396.3 1784.3,407.9 1796,414.6 1819.3,408.9 1830.9,411.3 1825.9,422.9 1829.2,432.9 1839.2,439.5 1845.9,446.2 1840.9,459.5 1839.2,476.2 1844.2,487.8 1839.2,484.5 1829.2,481.1 1812.6,482.1 1792.6,487.8 1779.3,496.1 1766,506.1 1746,507.8 1729.4,499.4 1722.7,489.5 1709.4,484.5 1692.8,486.1 1687.8,474.5 1699.4,459.5 1714.4,452.9 1706.1,449.5 1692.8,456.2 1679.5,469.5 1659.5,487.8 1642.9,494.5 1626.2,502.8 1609.6,511.1 1593,507.8 1599.6,492.8 1607.9,486.1 1599.6,484.5 1589.6,492.8 1573,499.4 1556.3,506.1 1541.4,511.1 1541.4,509.4M1847.1,540 1843.1,542 1840,554.2 1831.9,568.4 1823.8,578.6 1815.7,582.6 1803.5,583.6 1799.4,594.8 1795.4,613.1 1791.3,643.5 1790.3,663.8 1793.4,684.1 1800.5,703 1797.6,626.6 1792.6,646.6 1789.3,666.6 1792.6,683.2 1800.9,699.9 1809.3,716.5 1810.9,733.1 1809.3,749.8 1804.3,766.4 1797.6,781.4 1789.3,791.4 1779.3,799.7 1769.3,801.4 1759.4,796.4 1752.7,783.1 1746,769.7 1742.7,756.4 1741,743.1 1736.1,723.1 1732.7,703.2 1734.4,676.6 1739.4,653.3 1742.7,630 1747.7,610 1743.6,703 1742.6,663.8 1743.6,633.4 1747.7,615.1 1754.8,602.9 1759.9,588.7 1762.9,574.5 1771,562.3 1781.2,552.2 1793.4,542 1803.5,533.9 1815.7,529.9 1829.9,529.9 1844.1,531.9 1847.1,540M1844.2,489.5 1859.2,484.5 1869.2,499.4 1892.5,502.8 1925.7,501.1 1945.7,498.8 1982.3,499.4 1992.3,506.1 2017.3,504.4 2028.9,512.8 2038.9,526.1 2052.2,532.7 2058.9,546 2075.5,557.7 2072.2,566 2062.2,564.3 2065.5,582.6 2045.6,584.3 2025.6,580 2022.3,572.7 2012.3,571 2005.6,552.7 1994,547.7 1985.6,551 2005.6,574.3 2010.6,589.3 2004,605.9 1999,625.9 1994,656.9 2000.6,630 2004,653.3 1999,669.9 1985.6,681.6 1978,684.9 1970.7,676.6 1962.4,653.3 1955.7,638.3 1945.7,631.6 1934.1,636.6 1925.7,649.9 1914.1,663.2 1905.8,661.6 1900.8,651.6 1909.1,640 1919.1,623.3 1922.4,610 1924.1,592.6 1922.4,576 1915.8,559.4 1905.8,542.7 1892.5,532.7 1879.2,526.1 1859.2,521.1 1849.2,512.8 1852.5,499.4 1844.2,489.5M1967.3,719.8 1982.3,723.1 1980.7,731.5 1969,733.1 1967.3,719.8M1954,756.4 1952.4,766.4 1969,773.1 1969,786.4 1985.6,786.4 2000.6,783.1 2000.6,769.7 2022.3,769.7 2035.6,766.4 2035.6,753.1 2052.2,743.1 2068.8,736.5 2085.5,719.8 2103.8,709.8 2120.4,689.9 2137.1,673.2 2137.1,666.6 2118.8,674.9 2092.1,681.6 2068.8,696.5 2042.2,701.5 2022.3,708.2 2008.9,723.1 1992.3,736.5 1979,749.8 1969,756.4 1959,753.1 1954,756.4M2093.2,656.9 2089.9,645.9 2098.2,632.6 2116.5,617.6 2139.8,605.9 2166.5,594.3 2179.8,589.3 2186.4,582.6 2196.4,572.7 2213.1,567.7 2226.4,564.3 2236.3,559.4 2239.7,566 2239.7,579.3 2236.3,596 2239.7,602.6 2222.4,605.9 2222.4,625.9 2203.1,632.6 2166.5,632.6 2119.9,634.2 2119.9,656.9 2093.2,656.9M1892.5,517.8 1905.8,512.8 1925.7,514.4 1952.4,516.1 1979,512.8 1989,521.1 1982.3,529.4 1959,534.4 1932.4,531.1 1905.8,529.4 1892.5,524.4 1892.5,517.8M1300.7,1791.2 1299,1789.5 1294,1794.5 1285.7,1799.5 1275.7,1794.5 1262.4,1788.8 1242.4,1784.5 1225.8,1776.2 1212.5,1772.9 1199.2,1764.5 1187.5,1757.9 1182.5,1742.9 1177.5,1729.6 1170.9,1717.9 1169.2,1699.6 1167.5,1686.3 1157.6,1678 1149.2,1666.4 1140.9,1653.1 1130.9,1641.4 1125.9,1628.1 1119.3,1613.1 1112.6,1599.8 1109.3,1584.8 1097.7,1573.2 1086,1561.5 1076,1549.9 1067.7,1541.6 1052.7,1540.6 1034.4,1538.2 1024.4,1531.6 1016.1,1536.6 1002.8,1541.6 994.5,1551.6 991.2,1564.9 982.8,1569.9 976.2,1579.2 967.9,1582.5 957.9,1578.2 946.2,1568.2 932.9,1559.9 919.6,1551.6 909.6,1538.2 899.6,1524.9 896.3,1510 893,1493.3 888,1480 888,1477.7 879.7,1464.3 866.4,1454.4 856.4,1442.7 843.1,1424.4 826.4,1409.4 816.4,1392.8 804.8,1387.8M1639.5,425.2 1649.5,417.9 1687.8,404.6 1726.1,422.9 1776,446.2 1825.9,467.8 1839.2,474.5 1852.5,489.5 1869.2,499.4 1879.2,512.8 1892.5,517.8 1905.8,521.1 1925.7,532.7 1945.7,546 1955.7,569.3 1962.4,592.6 1972.3,625.9 1979,656.9 1977.3,658.3 1978,684.9 1977.3,713.2 1972.3,726.5 1962.4,734.8 1955.7,741.5 1954,756.4 1969,766.4 1992.3,756.4 2022.3,736.5 2052.2,719.8 2085.5,699.9 2118.8,676.6 2135.4,668.2 2123.2,659.9 2119.9,633.3 2139.8,625 2173.1,613.3 2179.8,609.3 2213.1,589.3 2234.7,559.4 2243,546 2253,529.4 2269.6,511.1 2282.9,501.1"/>
<path fill="none" stroke="#000" stroke-width="4.3" stroke-dasharray="7 3.5" d="M236.3,191.6 249.6,203.3 266.2,214.9 282.9,221.6 294.5,221.6 296.2,209.9 299.5,199.9 306.2,190 311.2,183.3 319.5,186.6 321.1,188.3 364.1,204.9 415,223.2 465.9,239.9 534.1,256.5 584.7,268.2 653.9,284.8 738.8,301.4 820,319.7 818.1,322.4 926.3,339.7 1053.4,357.3 1159.2,365.7 1245.7,370.7 1327.3,374.7 1408.8,375.6 1408.8,349.7 1420.5,351.4 1421.5,366.3 1427.1,386.3 1446.5,393 1459.8,397.9 1468.2,401.3 1486.5,395.6 1503.1,398.9 1516.4,407.9 1521.4,414.6 1533.1,411.3 1546.4,419.6 1559.7,426.2 1573,421.2 1581.3,416.2 1589.6,421.2 1612.9,420.2 1622.9,426.2 1639.5,425.2M2282.9,501.1 2306.2,494.5 2339.5,486.1 2376.1,474.5 2414.4,462.8 2416.1,444.5 2427.7,442.9 2441,426.2 2439.4,416.2 2447.7,396.3 2444.3,386.3 2446,366.3 2444.3,343 2454.3,309.8 2461,291.5 2469.3,291.5 2472.6,299.8 2482.6,301.4 2499.3,284.8 2512.6,288.1 2525.9,293.1 2532.5,313.1 2542.5,339.7 2550.8,363 2565.8,369.7 2575.8,389.6 2585.8,396.3 2599.1,407.9M804.8,1387.8 721.6,1375.5 715.9,1402.8 715.5,1402.8 565.7,1375.5 385.4,1259.7 389.4,1250.4 332.8,1239.7 269.6,1228.1"/>
</g>
<rect x="30.5" y="178.3" width="2790.8" height="1762.6000000000001" fill="none" stroke="#000" stroke-width="3.4"/>
<rect x="2993.6" y="1597.52" width="75.0" height="134.98" fill="#053061"/>
<rect x="2993.6" y="1463.04" width="75.0" height="134.98" fill="#246aae"/>
<rect x="2993.6" y="1328.56" width="75.0" height="134.98" fill="#529dc8"/>
<rect x="2993.6" y="1194.08" width="75.0" height="134.98" fill="#a7d0e4"/>
<rect x="2993.6" y="1059.60" width="75.0" height="134.98" fill="#e1edf3"/>
<rect x="2993.6" y="925.12" width="75.0" height="134.98" fill="#fae8de"/>
<rect x="2993.6" y="790.64" width="75.0" height="134.98" fill="#f7b799"/>
<rect x="2993.6" y="656.16" width="75.0" height="134.98" fill="#dd7059"/>
<rect x="2993.6" y="521.68" width="75.0" height="134.98" fill="#b72230"/>
<rect x="2993.6" y="387.20" width="75.0" height="134.98" fill="#67001f"/>
<path d="M2993.6,387.2 L3031.1,318.6 L3068.6,387.2Z" fill="#67001f"/>
<path d="M2993.6,1732.0 L3031.1,1800 L3068.6,1732.0Z" fill="#053061"/>
<path d="M2993.6,387.2 L3031.1,318.6 L3068.6,387.2 L3068.6,1732.0 L3031.1,1800 L2993.6,1732.0Z" fill="none" stroke="#000" stroke-width="3.4" stroke-linejoin="miter"/>
<path d="M3068.6,1732.0h14.6" stroke="#000" stroke-width="3.4"/>
<text x="3099" y="1747.8" font-size="44.5" textLength="63" lengthAdjust="spacingAndGlyphs">0.0</text>
<path d="M3068.6,1597.5h14.6" stroke="#000" stroke-width="3.4"/>
<text x="3099" y="1613.3" font-size="44.5" textLength="63" lengthAdjust="spacingAndGlyphs">0.1</text>
<path d="M3068.6,1463.0h14.6" stroke="#000" stroke-width="3.4"/>
<text x="3099" y="1478.8" font-size="44.5" textLength="63" lengthAdjust="spacingAndGlyphs">0.2</text>
<path d="M3068.6,1328.6h14.6" stroke="#000" stroke-width="3.4"/>
<text x="3099" y="1344.4" font-size="44.5" textLength="63" lengthAdjust="spacingAndGlyphs">0.3</text>
<path d="M3068.6,1194.1h14.6" stroke="#000" stroke-width="3.4"/>
<text x="3099" y="1209.9" font-size="44.5" textLength="63" lengthAdjust="spacingAndGlyphs">0.4</text>
<path d="M3068.6,1059.6h14.6" stroke="#000" stroke-width="3.4"/>
<text x="3099" y="1075.4" font-size="44.5" textLength="63" lengthAdjust="spacingAndGlyphs">0.5</text>
<path d="M3068.6,925.1h14.6" stroke="#000" stroke-width="3.4"/>
<text x="3099" y="940.9" font-size="44.5" textLength="63" lengthAdjust="spacingAndGlyphs">0.6</text>
<path d="M3068.6,790.6h14.6" stroke="#000" stroke-width="3.4"/>
<text x="3099" y="806.4" font-size="44.5" textLength="63" lengthAdjust="spacingAndGlyphs">0.7</text>
<path d="M3068.6,656.2h14.6" stroke="#000" stroke-width="3.4"/>
<text x="3099" y="672.0" font-size="44.5" textLength="63" lengthAdjust="spacingAndGlyphs">0.8</text>
<path d="M3068.6,521.7h14.6" stroke="#000" stroke-width="3.4"/>
<text x="3099" y="537.5" font-size="44.5" textLength="63" lengthAdjust="spacingAndGlyphs">0.9</text>
<path d="M3068.6,387.2h14.6" stroke="#000" stroke-width="3.4"/>
<text x="3099" y="403.0" font-size="44.5" textLength="63" lengthAdjust="spacingAndGlyphs">1.0</text>
<text transform="translate(3211.5,1061) rotate(-90)" font-size="44.5" text-anchor="middle" textLength="169" lengthAdjust="spacingAndGlyphs">Hit Rate</text>
<text x="897" y="80.5" font-size="68.4" textLength="1054" lengthAdjust="spacingAndGlyphs">Hit Rate (Above Normal): CWRF</text>
<text x="732" y="154" font-size="68.4" textLength="1386" lengthAdjust="spacingAndGlyphs">Variable: PRAVG, Month: MAY, Start: 1212</text>
</svg></body></html>
